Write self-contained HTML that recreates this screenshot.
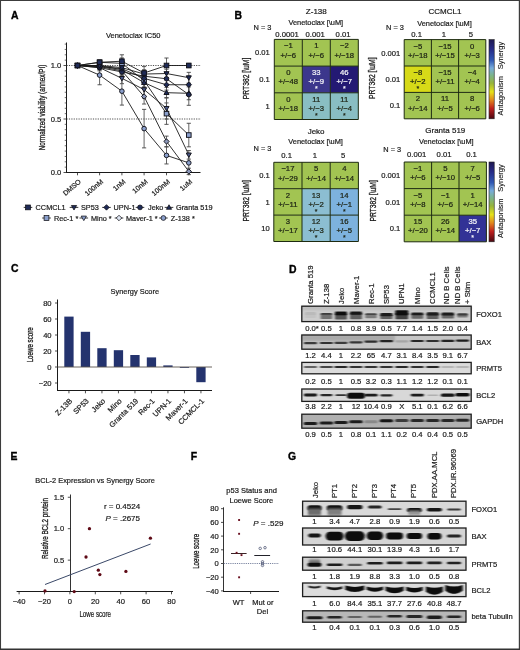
<!DOCTYPE html><html><head><meta charset="utf-8"><style>html,body{margin:0;padding:0;background:#fff;width:520px;height:650px;overflow:hidden}svg{display:block;font-family:"Liberation Sans", sans-serif}.w{will-change:transform;width:520px;height:650px}</style></head><body><div class="w">
<svg width="520" height="650" viewBox="0 0 520 650">
<defs><linearGradient id="cbar" x1="0" y1="0" x2="0" y2="1"><stop offset="0" stop-color="#1e1850"/><stop offset="0.12" stop-color="#262a86"/><stop offset="0.26" stop-color="#3058b4"/><stop offset="0.36" stop-color="#78acdc"/><stop offset="0.45" stop-color="#7cb48c"/><stop offset="0.55" stop-color="#96b43c"/><stop offset="0.66" stop-color="#e6e21a"/><stop offset="0.76" stop-color="#e28a1e"/><stop offset="0.87" stop-color="#c0201e"/><stop offset="1" stop-color="#4a0812"/></linearGradient><filter id="bl" x="-30%" y="-100%" width="160%" height="300%"><feGaussianBlur stdDeviation="0.9 0.55"/></filter><filter id="bl2" x="-30%" y="-100%" width="160%" height="300%"><feGaussianBlur stdDeviation="1.2"/></filter></defs>
<rect x="0.00" y="0.00" width="520.00" height="650.00" fill="#fff" />
<text x="11.00" y="19.20" font-size="10.4" text-anchor="start" fill="#000" font-weight="bold" stroke="#000" stroke-width="0.35">A</text>
<text x="133.20" y="38.20" font-size="7.5" text-anchor="middle" fill="#1a1a1a"  stroke="#1a1a1a" stroke-width="0.2">Venetoclax IC50</text>
<line x1="66.5" y1="65.50" x2="201" y2="65.50" stroke="#222" stroke-width="0.8" stroke-dasharray="1.2,1.2"/>
<line x1="66.5" y1="119.00" x2="201" y2="119.00" stroke="#222" stroke-width="0.8" stroke-dasharray="1.2,1.2"/>
<line x1="66.50" y1="42.50" x2="66.50" y2="173.00" stroke="#1a1a1a" stroke-width="1.0" />
<line x1="66.00" y1="172.50" x2="200.50" y2="172.50" stroke="#1a1a1a" stroke-width="1.0" />
<line x1="63.50" y1="172.50" x2="66.50" y2="172.50" stroke="#222" stroke-width="0.8" />
<line x1="64.70" y1="167.15" x2="66.50" y2="167.15" stroke="#333" stroke-width="0.7" />
<line x1="64.70" y1="161.80" x2="66.50" y2="161.80" stroke="#333" stroke-width="0.7" />
<line x1="64.70" y1="156.45" x2="66.50" y2="156.45" stroke="#333" stroke-width="0.7" />
<line x1="64.70" y1="151.10" x2="66.50" y2="151.10" stroke="#333" stroke-width="0.7" />
<line x1="64.70" y1="145.75" x2="66.50" y2="145.75" stroke="#333" stroke-width="0.7" />
<line x1="64.70" y1="140.40" x2="66.50" y2="140.40" stroke="#333" stroke-width="0.7" />
<line x1="64.70" y1="135.05" x2="66.50" y2="135.05" stroke="#333" stroke-width="0.7" />
<line x1="64.70" y1="129.70" x2="66.50" y2="129.70" stroke="#333" stroke-width="0.7" />
<line x1="64.70" y1="124.35" x2="66.50" y2="124.35" stroke="#333" stroke-width="0.7" />
<line x1="63.50" y1="119.00" x2="66.50" y2="119.00" stroke="#222" stroke-width="0.8" />
<line x1="64.70" y1="113.65" x2="66.50" y2="113.65" stroke="#333" stroke-width="0.7" />
<line x1="64.70" y1="108.30" x2="66.50" y2="108.30" stroke="#333" stroke-width="0.7" />
<line x1="64.70" y1="102.95" x2="66.50" y2="102.95" stroke="#333" stroke-width="0.7" />
<line x1="64.70" y1="97.60" x2="66.50" y2="97.60" stroke="#333" stroke-width="0.7" />
<line x1="64.70" y1="92.25" x2="66.50" y2="92.25" stroke="#333" stroke-width="0.7" />
<line x1="64.70" y1="86.90" x2="66.50" y2="86.90" stroke="#333" stroke-width="0.7" />
<line x1="64.70" y1="81.55" x2="66.50" y2="81.55" stroke="#333" stroke-width="0.7" />
<line x1="64.70" y1="76.20" x2="66.50" y2="76.20" stroke="#333" stroke-width="0.7" />
<line x1="64.70" y1="70.85" x2="66.50" y2="70.85" stroke="#333" stroke-width="0.7" />
<line x1="63.50" y1="65.50" x2="66.50" y2="65.50" stroke="#222" stroke-width="0.8" />
<line x1="64.70" y1="60.15" x2="66.50" y2="60.15" stroke="#333" stroke-width="0.7" />
<line x1="64.70" y1="54.80" x2="66.50" y2="54.80" stroke="#333" stroke-width="0.7" />
<line x1="64.70" y1="49.45" x2="66.50" y2="49.45" stroke="#333" stroke-width="0.7" />
<line x1="64.70" y1="44.10" x2="66.50" y2="44.10" stroke="#333" stroke-width="0.7" />
<text x="61.30" y="68.24" font-size="7.6" text-anchor="end" fill="#1a1a1a"  stroke="#1a1a1a" stroke-width="0.2">1.0</text>
<text x="61.30" y="121.74" font-size="7.6" text-anchor="end" fill="#1a1a1a"  stroke="#1a1a1a" stroke-width="0.2">0.5</text>
<text x="61.30" y="175.24" font-size="7.6" text-anchor="end" fill="#1a1a1a"  stroke="#1a1a1a" stroke-width="0.2">0.0</text>
<line x1="77.50" y1="172.60" x2="77.50" y2="175.30" stroke="#222" stroke-width="0.8" />
<line x1="99.60" y1="172.60" x2="99.60" y2="175.30" stroke="#222" stroke-width="0.8" />
<line x1="121.90" y1="172.60" x2="121.90" y2="175.30" stroke="#222" stroke-width="0.8" />
<line x1="144.10" y1="172.60" x2="144.10" y2="175.30" stroke="#222" stroke-width="0.8" />
<line x1="166.50" y1="172.60" x2="166.50" y2="175.30" stroke="#222" stroke-width="0.8" />
<line x1="188.80" y1="172.60" x2="188.80" y2="175.30" stroke="#222" stroke-width="0.8" />
<g transform="translate(42.00,107.50) rotate(-90) scale(0.74,1)"><text x="0" y="3.10" font-size="8.6" text-anchor="middle" fill="#1a1a1a" stroke="#1a1a1a" stroke-width="0.3">Normalized viability (annex/PI)</text></g>
<g transform="translate(79.90,180.60) rotate(-40)"><text x="0" y="2.5" font-size="7.0" text-anchor="end" fill="#1a1a1a" stroke="#1a1a1a" stroke-width="0.2">DMSO</text></g>
<g transform="translate(102.00,180.60) rotate(-40)"><text x="0" y="2.5" font-size="7.0" text-anchor="end" fill="#1a1a1a" stroke="#1a1a1a" stroke-width="0.2">100nM</text></g>
<g transform="translate(124.30,180.60) rotate(-40)"><text x="0" y="2.5" font-size="7.0" text-anchor="end" fill="#1a1a1a" stroke="#1a1a1a" stroke-width="0.2">1nM</text></g>
<g transform="translate(146.50,180.60) rotate(-40)"><text x="0" y="2.5" font-size="7.0" text-anchor="end" fill="#1a1a1a" stroke="#1a1a1a" stroke-width="0.2">10nM</text></g>
<g transform="translate(168.90,180.60) rotate(-40)"><text x="0" y="2.5" font-size="7.0" text-anchor="end" fill="#1a1a1a" stroke="#1a1a1a" stroke-width="0.2">100nM</text></g>
<g transform="translate(191.20,180.60) rotate(-40)"><text x="0" y="2.5" font-size="7.0" text-anchor="end" fill="#1a1a1a" stroke="#1a1a1a" stroke-width="0.2">1uM</text></g>
<line x1="99.60" y1="60.15" x2="99.60" y2="64.43" stroke="#555" stroke-width="0.9" />
<line x1="97.50" y1="60.15" x2="101.70" y2="60.15" stroke="#444" stroke-width="0.9" />
<line x1="97.50" y1="64.43" x2="101.70" y2="64.43" stroke="#444" stroke-width="0.9" />
<line x1="121.90" y1="54.80" x2="121.90" y2="67.64" stroke="#555" stroke-width="0.9" />
<line x1="119.80" y1="54.80" x2="124.00" y2="54.80" stroke="#444" stroke-width="0.9" />
<line x1="119.80" y1="67.64" x2="124.00" y2="67.64" stroke="#444" stroke-width="0.9" />
<line x1="144.10" y1="66.57" x2="144.10" y2="79.41" stroke="#555" stroke-width="0.9" />
<line x1="142.00" y1="66.57" x2="146.20" y2="66.57" stroke="#444" stroke-width="0.9" />
<line x1="142.00" y1="79.41" x2="146.20" y2="79.41" stroke="#444" stroke-width="0.9" />
<line x1="166.50" y1="58.01" x2="166.50" y2="72.99" stroke="#555" stroke-width="0.9" />
<line x1="164.40" y1="58.01" x2="168.60" y2="58.01" stroke="#444" stroke-width="0.9" />
<line x1="164.40" y1="72.99" x2="168.60" y2="72.99" stroke="#444" stroke-width="0.9" />
<line x1="188.80" y1="63.36" x2="188.80" y2="67.64" stroke="#555" stroke-width="0.9" />
<line x1="186.70" y1="63.36" x2="190.90" y2="63.36" stroke="#444" stroke-width="0.9" />
<line x1="186.70" y1="67.64" x2="190.90" y2="67.64" stroke="#444" stroke-width="0.9" />
<line x1="99.60" y1="63.36" x2="99.60" y2="67.64" stroke="#555" stroke-width="0.9" />
<line x1="97.50" y1="63.36" x2="101.70" y2="63.36" stroke="#444" stroke-width="0.9" />
<line x1="97.50" y1="67.64" x2="101.70" y2="67.64" stroke="#444" stroke-width="0.9" />
<line x1="121.90" y1="64.43" x2="121.90" y2="70.85" stroke="#555" stroke-width="0.9" />
<line x1="119.80" y1="64.43" x2="124.00" y2="64.43" stroke="#444" stroke-width="0.9" />
<line x1="119.80" y1="70.85" x2="124.00" y2="70.85" stroke="#444" stroke-width="0.9" />
<line x1="144.10" y1="69.78" x2="144.10" y2="78.34" stroke="#555" stroke-width="0.9" />
<line x1="142.00" y1="69.78" x2="146.20" y2="69.78" stroke="#444" stroke-width="0.9" />
<line x1="142.00" y1="78.34" x2="146.20" y2="78.34" stroke="#444" stroke-width="0.9" />
<line x1="166.50" y1="69.24" x2="166.50" y2="77.80" stroke="#555" stroke-width="0.9" />
<line x1="164.40" y1="69.24" x2="168.60" y2="69.24" stroke="#444" stroke-width="0.9" />
<line x1="164.40" y1="77.80" x2="168.60" y2="77.80" stroke="#444" stroke-width="0.9" />
<line x1="188.80" y1="72.35" x2="188.80" y2="83.05" stroke="#555" stroke-width="0.9" />
<line x1="186.70" y1="72.35" x2="190.90" y2="72.35" stroke="#444" stroke-width="0.9" />
<line x1="186.70" y1="83.05" x2="190.90" y2="83.05" stroke="#444" stroke-width="0.9" />
<line x1="99.60" y1="64.43" x2="99.60" y2="68.71" stroke="#555" stroke-width="0.9" />
<line x1="97.50" y1="64.43" x2="101.70" y2="64.43" stroke="#444" stroke-width="0.9" />
<line x1="97.50" y1="68.71" x2="101.70" y2="68.71" stroke="#444" stroke-width="0.9" />
<line x1="121.90" y1="65.50" x2="121.90" y2="71.92" stroke="#555" stroke-width="0.9" />
<line x1="119.80" y1="65.50" x2="124.00" y2="65.50" stroke="#444" stroke-width="0.9" />
<line x1="119.80" y1="71.92" x2="124.00" y2="71.92" stroke="#444" stroke-width="0.9" />
<line x1="144.10" y1="72.99" x2="144.10" y2="83.69" stroke="#555" stroke-width="0.9" />
<line x1="142.00" y1="72.99" x2="146.20" y2="72.99" stroke="#444" stroke-width="0.9" />
<line x1="142.00" y1="83.69" x2="146.20" y2="83.69" stroke="#444" stroke-width="0.9" />
<line x1="166.50" y1="79.41" x2="166.50" y2="90.11" stroke="#555" stroke-width="0.9" />
<line x1="164.40" y1="79.41" x2="168.60" y2="79.41" stroke="#444" stroke-width="0.9" />
<line x1="164.40" y1="90.11" x2="168.60" y2="90.11" stroke="#444" stroke-width="0.9" />
<line x1="188.80" y1="76.20" x2="188.80" y2="93.32" stroke="#555" stroke-width="0.9" />
<line x1="186.70" y1="76.20" x2="190.90" y2="76.20" stroke="#444" stroke-width="0.9" />
<line x1="186.70" y1="93.32" x2="190.90" y2="93.32" stroke="#444" stroke-width="0.9" />
<line x1="99.60" y1="65.50" x2="99.60" y2="69.78" stroke="#555" stroke-width="0.9" />
<line x1="97.50" y1="65.50" x2="101.70" y2="65.50" stroke="#444" stroke-width="0.9" />
<line x1="97.50" y1="69.78" x2="101.70" y2="69.78" stroke="#444" stroke-width="0.9" />
<line x1="121.90" y1="68.71" x2="121.90" y2="75.13" stroke="#555" stroke-width="0.9" />
<line x1="119.80" y1="68.71" x2="124.00" y2="68.71" stroke="#444" stroke-width="0.9" />
<line x1="119.80" y1="75.13" x2="124.00" y2="75.13" stroke="#444" stroke-width="0.9" />
<line x1="144.10" y1="70.85" x2="144.10" y2="81.55" stroke="#555" stroke-width="0.9" />
<line x1="142.00" y1="70.85" x2="146.20" y2="70.85" stroke="#444" stroke-width="0.9" />
<line x1="142.00" y1="81.55" x2="146.20" y2="81.55" stroke="#444" stroke-width="0.9" />
<line x1="166.50" y1="72.35" x2="166.50" y2="85.19" stroke="#555" stroke-width="0.9" />
<line x1="164.40" y1="72.35" x2="168.60" y2="72.35" stroke="#444" stroke-width="0.9" />
<line x1="164.40" y1="85.19" x2="168.60" y2="85.19" stroke="#444" stroke-width="0.9" />
<line x1="188.80" y1="83.90" x2="188.80" y2="105.30" stroke="#555" stroke-width="0.9" />
<line x1="186.70" y1="83.90" x2="190.90" y2="83.90" stroke="#444" stroke-width="0.9" />
<line x1="186.70" y1="105.30" x2="190.90" y2="105.30" stroke="#444" stroke-width="0.9" />
<line x1="99.60" y1="63.36" x2="99.60" y2="67.64" stroke="#555" stroke-width="0.9" />
<line x1="97.50" y1="63.36" x2="101.70" y2="63.36" stroke="#444" stroke-width="0.9" />
<line x1="97.50" y1="67.64" x2="101.70" y2="67.64" stroke="#444" stroke-width="0.9" />
<line x1="121.90" y1="65.50" x2="121.90" y2="74.06" stroke="#555" stroke-width="0.9" />
<line x1="119.80" y1="65.50" x2="124.00" y2="65.50" stroke="#444" stroke-width="0.9" />
<line x1="119.80" y1="74.06" x2="124.00" y2="74.06" stroke="#444" stroke-width="0.9" />
<line x1="144.10" y1="77.27" x2="144.10" y2="87.97" stroke="#555" stroke-width="0.9" />
<line x1="142.00" y1="77.27" x2="146.20" y2="77.27" stroke="#444" stroke-width="0.9" />
<line x1="142.00" y1="87.97" x2="146.20" y2="87.97" stroke="#444" stroke-width="0.9" />
<line x1="166.50" y1="87.33" x2="166.50" y2="98.03" stroke="#555" stroke-width="0.9" />
<line x1="164.40" y1="87.33" x2="168.60" y2="87.33" stroke="#444" stroke-width="0.9" />
<line x1="164.40" y1="98.03" x2="168.60" y2="98.03" stroke="#444" stroke-width="0.9" />
<line x1="188.80" y1="86.90" x2="188.80" y2="99.74" stroke="#555" stroke-width="0.9" />
<line x1="186.70" y1="86.90" x2="190.90" y2="86.90" stroke="#444" stroke-width="0.9" />
<line x1="186.70" y1="99.74" x2="190.90" y2="99.74" stroke="#444" stroke-width="0.9" />
<line x1="99.60" y1="60.15" x2="99.60" y2="64.43" stroke="#555" stroke-width="0.9" />
<line x1="97.50" y1="60.15" x2="101.70" y2="60.15" stroke="#444" stroke-width="0.9" />
<line x1="97.50" y1="64.43" x2="101.70" y2="64.43" stroke="#444" stroke-width="0.9" />
<line x1="121.90" y1="58.01" x2="121.90" y2="68.71" stroke="#555" stroke-width="0.9" />
<line x1="119.80" y1="58.01" x2="124.00" y2="58.01" stroke="#444" stroke-width="0.9" />
<line x1="119.80" y1="68.71" x2="124.00" y2="68.71" stroke="#444" stroke-width="0.9" />
<line x1="144.10" y1="74.06" x2="144.10" y2="86.90" stroke="#555" stroke-width="0.9" />
<line x1="142.00" y1="74.06" x2="146.20" y2="74.06" stroke="#444" stroke-width="0.9" />
<line x1="142.00" y1="86.90" x2="146.20" y2="86.90" stroke="#444" stroke-width="0.9" />
<line x1="166.50" y1="102.95" x2="166.50" y2="124.35" stroke="#555" stroke-width="0.9" />
<line x1="164.40" y1="102.95" x2="168.60" y2="102.95" stroke="#444" stroke-width="0.9" />
<line x1="164.40" y1="124.35" x2="168.60" y2="124.35" stroke="#444" stroke-width="0.9" />
<line x1="188.80" y1="123.28" x2="188.80" y2="146.82" stroke="#555" stroke-width="0.9" />
<line x1="186.70" y1="123.28" x2="190.90" y2="123.28" stroke="#444" stroke-width="0.9" />
<line x1="186.70" y1="146.82" x2="190.90" y2="146.82" stroke="#444" stroke-width="0.9" />
<line x1="99.60" y1="64.43" x2="99.60" y2="70.85" stroke="#555" stroke-width="0.9" />
<line x1="97.50" y1="64.43" x2="101.70" y2="64.43" stroke="#444" stroke-width="0.9" />
<line x1="97.50" y1="70.85" x2="101.70" y2="70.85" stroke="#444" stroke-width="0.9" />
<line x1="121.90" y1="72.99" x2="121.90" y2="83.69" stroke="#555" stroke-width="0.9" />
<line x1="119.80" y1="72.99" x2="124.00" y2="72.99" stroke="#444" stroke-width="0.9" />
<line x1="119.80" y1="83.69" x2="124.00" y2="83.69" stroke="#444" stroke-width="0.9" />
<line x1="144.10" y1="81.02" x2="144.10" y2="98.13" stroke="#555" stroke-width="0.9" />
<line x1="142.00" y1="81.02" x2="146.20" y2="81.02" stroke="#444" stroke-width="0.9" />
<line x1="142.00" y1="98.13" x2="146.20" y2="98.13" stroke="#444" stroke-width="0.9" />
<line x1="166.50" y1="97.60" x2="166.50" y2="119.00" stroke="#555" stroke-width="0.9" />
<line x1="164.40" y1="97.60" x2="168.60" y2="97.60" stroke="#444" stroke-width="0.9" />
<line x1="164.40" y1="119.00" x2="168.60" y2="119.00" stroke="#444" stroke-width="0.9" />
<line x1="188.80" y1="150.56" x2="188.80" y2="159.12" stroke="#555" stroke-width="0.9" />
<line x1="186.70" y1="150.56" x2="190.90" y2="150.56" stroke="#444" stroke-width="0.9" />
<line x1="186.70" y1="159.12" x2="190.90" y2="159.12" stroke="#444" stroke-width="0.9" />
<line x1="99.60" y1="64.43" x2="99.60" y2="68.71" stroke="#555" stroke-width="0.9" />
<line x1="97.50" y1="64.43" x2="101.70" y2="64.43" stroke="#444" stroke-width="0.9" />
<line x1="97.50" y1="68.71" x2="101.70" y2="68.71" stroke="#444" stroke-width="0.9" />
<line x1="121.90" y1="65.50" x2="121.90" y2="76.20" stroke="#555" stroke-width="0.9" />
<line x1="119.80" y1="65.50" x2="124.00" y2="65.50" stroke="#444" stroke-width="0.9" />
<line x1="119.80" y1="76.20" x2="124.00" y2="76.20" stroke="#444" stroke-width="0.9" />
<line x1="144.10" y1="89.04" x2="144.10" y2="104.02" stroke="#555" stroke-width="0.9" />
<line x1="142.00" y1="89.04" x2="146.20" y2="89.04" stroke="#444" stroke-width="0.9" />
<line x1="142.00" y1="104.02" x2="146.20" y2="104.02" stroke="#444" stroke-width="0.9" />
<line x1="166.50" y1="136.12" x2="166.50" y2="146.82" stroke="#555" stroke-width="0.9" />
<line x1="164.40" y1="136.12" x2="168.60" y2="136.12" stroke="#444" stroke-width="0.9" />
<line x1="164.40" y1="146.82" x2="168.60" y2="146.82" stroke="#444" stroke-width="0.9" />
<line x1="188.80" y1="168.22" x2="188.80" y2="174.64" stroke="#555" stroke-width="0.9" />
<line x1="186.70" y1="168.22" x2="190.90" y2="168.22" stroke="#444" stroke-width="0.9" />
<line x1="186.70" y1="174.64" x2="190.90" y2="174.64" stroke="#444" stroke-width="0.9" />
<line x1="99.60" y1="65.50" x2="99.60" y2="84.76" stroke="#555" stroke-width="0.9" />
<line x1="97.50" y1="65.50" x2="101.70" y2="65.50" stroke="#444" stroke-width="0.9" />
<line x1="97.50" y1="84.76" x2="101.70" y2="84.76" stroke="#444" stroke-width="0.9" />
<line x1="121.90" y1="77.27" x2="121.90" y2="105.09" stroke="#555" stroke-width="0.9" />
<line x1="119.80" y1="77.27" x2="124.00" y2="77.27" stroke="#444" stroke-width="0.9" />
<line x1="119.80" y1="105.09" x2="124.00" y2="105.09" stroke="#444" stroke-width="0.9" />
<line x1="144.10" y1="109.37" x2="144.10" y2="147.89" stroke="#555" stroke-width="0.9" />
<line x1="142.00" y1="109.37" x2="146.20" y2="109.37" stroke="#444" stroke-width="0.9" />
<line x1="142.00" y1="147.89" x2="146.20" y2="147.89" stroke="#444" stroke-width="0.9" />
<line x1="166.50" y1="146.82" x2="166.50" y2="163.94" stroke="#555" stroke-width="0.9" />
<line x1="164.40" y1="146.82" x2="168.60" y2="146.82" stroke="#444" stroke-width="0.9" />
<line x1="164.40" y1="163.94" x2="168.60" y2="163.94" stroke="#444" stroke-width="0.9" />
<line x1="188.80" y1="154.31" x2="188.80" y2="171.43" stroke="#555" stroke-width="0.9" />
<line x1="186.70" y1="154.31" x2="190.90" y2="154.31" stroke="#444" stroke-width="0.9" />
<line x1="186.70" y1="171.43" x2="190.90" y2="171.43" stroke="#444" stroke-width="0.9" />
<polyline points="77.50,65.50 99.60,62.29 121.90,61.22 144.10,72.99 166.50,65.50 188.80,65.50" fill="none" stroke="#1a1a1a" stroke-width="0.9"/>
<polyline points="77.50,65.50 99.60,65.50 121.90,67.64 144.10,74.06 166.50,73.52 188.80,77.70" fill="none" stroke="#1a1a1a" stroke-width="0.9"/>
<polyline points="77.50,65.50 99.60,66.57 121.90,68.71 144.10,78.34 166.50,84.76 188.80,84.76" fill="none" stroke="#1a1a1a" stroke-width="0.9"/>
<polyline points="77.50,65.50 99.60,67.64 121.90,71.92 144.10,76.20 166.50,78.77 188.80,94.60" fill="none" stroke="#1a1a1a" stroke-width="0.9"/>
<polyline points="77.50,65.50 99.60,65.50 121.90,69.78 144.10,82.62 166.50,92.68 188.80,93.32" fill="none" stroke="#1a1a1a" stroke-width="0.9"/>
<polyline points="77.50,65.50 99.60,62.29 121.90,63.36 144.10,80.48 166.50,113.65 188.80,135.05" fill="none" stroke="#1a1a1a" stroke-width="0.9"/>
<polyline points="77.50,65.50 99.60,67.64 121.90,78.34 144.10,89.58 166.50,108.30 188.80,154.84" fill="none" stroke="#1a1a1a" stroke-width="0.9"/>
<polyline points="77.50,65.50 99.60,66.57 121.90,70.85 144.10,96.53 166.50,141.47 188.80,171.43" fill="none" stroke="#1a1a1a" stroke-width="0.9"/>
<polyline points="77.50,65.50 99.60,75.13 121.90,91.18 144.10,128.63 166.50,155.38 188.80,162.87" fill="none" stroke="#1a1a1a" stroke-width="0.9"/>
<circle cx="77.50" cy="65.50" r="2.30" fill="#8a9fcc" stroke="#111118" stroke-width="0.95"/>
<circle cx="99.60" cy="75.13" r="2.30" fill="#8a9fcc" stroke="#111118" stroke-width="0.95"/>
<circle cx="121.90" cy="91.18" r="2.30" fill="#8a9fcc" stroke="#111118" stroke-width="0.95"/>
<circle cx="144.10" cy="128.63" r="2.30" fill="#8a9fcc" stroke="#111118" stroke-width="0.95"/>
<circle cx="166.50" cy="155.38" r="2.30" fill="#8a9fcc" stroke="#111118" stroke-width="0.95"/>
<circle cx="188.80" cy="162.87" r="2.30" fill="#8a9fcc" stroke="#111118" stroke-width="0.95"/>
<path d="M77.50,62.86L80.14,65.50L77.50,68.14L74.86,65.50Z" fill="#8a96b8" stroke="#111118" stroke-width="0.95"/>
<path d="M99.60,63.93L102.24,66.57L99.60,69.22L96.95,66.57Z" fill="#8a96b8" stroke="#111118" stroke-width="0.95"/>
<path d="M121.90,68.21L124.55,70.85L121.90,73.50L119.26,70.85Z" fill="#8a96b8" stroke="#111118" stroke-width="0.95"/>
<path d="M144.10,93.89L146.75,96.53L144.10,99.17L141.45,96.53Z" fill="#8a96b8" stroke="#111118" stroke-width="0.95"/>
<path d="M166.50,138.82L169.15,141.47L166.50,144.12L163.85,141.47Z" fill="#8a96b8" stroke="#111118" stroke-width="0.95"/>
<path d="M188.80,168.78L191.45,171.43L188.80,174.08L186.16,171.43Z" fill="#8a96b8" stroke="#111118" stroke-width="0.95"/>
<path d="M77.50,68.03L80.03,63.66L74.97,63.66Z" fill="#4a5888" stroke="#111118" stroke-width="0.95"/>
<path d="M99.60,70.17L102.13,65.80L97.07,65.80Z" fill="#4a5888" stroke="#111118" stroke-width="0.95"/>
<path d="M121.90,80.87L124.43,76.50L119.37,76.50Z" fill="#4a5888" stroke="#111118" stroke-width="0.95"/>
<path d="M144.10,92.11L146.63,87.73L141.57,87.73Z" fill="#4a5888" stroke="#111118" stroke-width="0.95"/>
<path d="M166.50,110.83L169.03,106.46L163.97,106.46Z" fill="#4a5888" stroke="#111118" stroke-width="0.95"/>
<path d="M188.80,157.38L191.33,153.00L186.27,153.00Z" fill="#4a5888" stroke="#111118" stroke-width="0.95"/>
<rect x="75.20" y="63.20" width="4.60" height="4.60" fill="#8a9fcc" stroke="#111118" stroke-width="0.95"/>
<rect x="97.30" y="59.99" width="4.60" height="4.60" fill="#8a9fcc" stroke="#111118" stroke-width="0.95"/>
<rect x="119.60" y="61.06" width="4.60" height="4.60" fill="#8a9fcc" stroke="#111118" stroke-width="0.95"/>
<rect x="141.80" y="78.18" width="4.60" height="4.60" fill="#8a9fcc" stroke="#111118" stroke-width="0.95"/>
<rect x="164.20" y="111.35" width="4.60" height="4.60" fill="#8a9fcc" stroke="#111118" stroke-width="0.95"/>
<rect x="186.50" y="132.75" width="4.60" height="4.60" fill="#8a9fcc" stroke="#111118" stroke-width="0.95"/>
<path d="M77.50,62.97L80.03,67.34L74.97,67.34Z" fill="#1f2b57" stroke="#111118" stroke-width="0.95"/>
<path d="M99.60,62.97L102.13,67.34L97.07,67.34Z" fill="#1f2b57" stroke="#111118" stroke-width="0.95"/>
<path d="M121.90,67.25L124.43,71.62L119.37,71.62Z" fill="#1f2b57" stroke="#111118" stroke-width="0.95"/>
<path d="M144.10,80.09L146.63,84.46L141.57,84.46Z" fill="#1f2b57" stroke="#111118" stroke-width="0.95"/>
<path d="M166.50,90.15L169.03,94.52L163.97,94.52Z" fill="#1f2b57" stroke="#111118" stroke-width="0.95"/>
<path d="M188.80,90.79L191.33,95.16L186.27,95.16Z" fill="#1f2b57" stroke="#111118" stroke-width="0.95"/>
<circle cx="77.50" cy="65.50" r="2.30" fill="#1f2b57" stroke="#111118" stroke-width="0.95"/>
<circle cx="99.60" cy="67.64" r="2.30" fill="#1f2b57" stroke="#111118" stroke-width="0.95"/>
<circle cx="121.90" cy="71.92" r="2.30" fill="#1f2b57" stroke="#111118" stroke-width="0.95"/>
<circle cx="144.10" cy="76.20" r="2.30" fill="#1f2b57" stroke="#111118" stroke-width="0.95"/>
<circle cx="166.50" cy="78.77" r="2.30" fill="#1f2b57" stroke="#111118" stroke-width="0.95"/>
<circle cx="188.80" cy="94.60" r="2.30" fill="#1f2b57" stroke="#111118" stroke-width="0.95"/>
<path d="M77.50,62.86L80.14,65.50L77.50,68.14L74.86,65.50Z" fill="#1f2b57" stroke="#111118" stroke-width="0.95"/>
<path d="M99.60,63.93L102.24,66.57L99.60,69.22L96.95,66.57Z" fill="#1f2b57" stroke="#111118" stroke-width="0.95"/>
<path d="M121.90,66.07L124.55,68.71L121.90,71.36L119.26,68.71Z" fill="#1f2b57" stroke="#111118" stroke-width="0.95"/>
<path d="M144.10,75.70L146.75,78.34L144.10,80.98L141.45,78.34Z" fill="#1f2b57" stroke="#111118" stroke-width="0.95"/>
<path d="M166.50,82.12L169.15,84.76L166.50,87.41L163.85,84.76Z" fill="#1f2b57" stroke="#111118" stroke-width="0.95"/>
<path d="M188.80,82.12L191.45,84.76L188.80,87.41L186.16,84.76Z" fill="#1f2b57" stroke="#111118" stroke-width="0.95"/>
<path d="M77.50,68.03L80.03,63.66L74.97,63.66Z" fill="#1f2b57" stroke="#111118" stroke-width="0.95"/>
<path d="M99.60,68.03L102.13,63.66L97.07,63.66Z" fill="#1f2b57" stroke="#111118" stroke-width="0.95"/>
<path d="M121.90,70.17L124.43,65.80L119.37,65.80Z" fill="#1f2b57" stroke="#111118" stroke-width="0.95"/>
<path d="M144.10,76.59L146.63,72.22L141.57,72.22Z" fill="#1f2b57" stroke="#111118" stroke-width="0.95"/>
<path d="M166.50,76.05L169.03,71.68L163.97,71.68Z" fill="#1f2b57" stroke="#111118" stroke-width="0.95"/>
<path d="M188.80,80.23L191.33,75.86L186.27,75.86Z" fill="#1f2b57" stroke="#111118" stroke-width="0.95"/>
<rect x="75.20" y="63.20" width="4.60" height="4.60" fill="#1f2b57" stroke="#111118" stroke-width="0.95"/>
<rect x="97.30" y="59.99" width="4.60" height="4.60" fill="#1f2b57" stroke="#111118" stroke-width="0.95"/>
<rect x="119.60" y="58.92" width="4.60" height="4.60" fill="#1f2b57" stroke="#111118" stroke-width="0.95"/>
<rect x="141.80" y="70.69" width="4.60" height="4.60" fill="#1f2b57" stroke="#111118" stroke-width="0.95"/>
<rect x="164.20" y="63.20" width="4.60" height="4.60" fill="#1f2b57" stroke="#111118" stroke-width="0.95"/>
<rect x="186.50" y="63.20" width="4.60" height="4.60" fill="#1f2b57" stroke="#111118" stroke-width="0.95"/>
<line x1="23.70" y1="207.40" x2="32.30" y2="207.40" stroke="#222" stroke-width="0.9" />
<rect x="25.60" y="205.00" width="4.80" height="4.80" fill="#1f2b57" stroke="#111118" stroke-width="0.75"/>
<text x="35.60" y="210.03" font-size="7.3" text-anchor="start" fill="#1a1a1a"  stroke="#1a1a1a" stroke-width="0.2">CCMCL1</text>
<line x1="69.70" y1="207.40" x2="78.30" y2="207.40" stroke="#222" stroke-width="0.9" />
<path d="M74.00,210.04L76.64,205.48L71.36,205.48Z" fill="#1f2b57" stroke="#111118" stroke-width="0.75"/>
<text x="81.00" y="210.03" font-size="7.3" text-anchor="start" fill="#1a1a1a"  stroke="#1a1a1a" stroke-width="0.2">SP53</text>
<line x1="102.20" y1="207.40" x2="110.80" y2="207.40" stroke="#222" stroke-width="0.9" />
<path d="M106.50,204.64L109.26,207.40L106.50,210.16L103.74,207.40Z" fill="#1f2b57" stroke="#111118" stroke-width="0.75"/>
<text x="113.60" y="210.03" font-size="7.3" text-anchor="start" fill="#1a1a1a"  stroke="#1a1a1a" stroke-width="0.2">UPN-1</text>
<line x1="135.70" y1="207.40" x2="144.30" y2="207.40" stroke="#222" stroke-width="0.9" />
<circle cx="140.00" cy="207.40" r="2.40" fill="#1f2b57" stroke="#111118" stroke-width="0.75"/>
<text x="148.00" y="210.03" font-size="7.3" text-anchor="start" fill="#1a1a1a"  stroke="#1a1a1a" stroke-width="0.2">Jeko</text>
<line x1="164.70" y1="207.40" x2="173.30" y2="207.40" stroke="#222" stroke-width="0.9" />
<path d="M169.00,204.76L171.64,209.32L166.36,209.32Z" fill="#1f2b57" stroke="#111118" stroke-width="0.75"/>
<text x="176.00" y="210.03" font-size="7.3" text-anchor="start" fill="#1a1a1a"  stroke="#1a1a1a" stroke-width="0.2">Granta 519</text>
<line x1="42.20" y1="218.00" x2="50.80" y2="218.00" stroke="#222" stroke-width="0.9" />
<rect x="44.10" y="215.60" width="4.80" height="4.80" fill="#8a9fcc" stroke="#111118" stroke-width="0.75"/>
<text x="53.90" y="220.63" font-size="7.3" text-anchor="start" fill="#1a1a1a"  stroke="#1a1a1a" stroke-width="0.2">Rec-1 *</text>
<line x1="79.50" y1="218.00" x2="88.10" y2="218.00" stroke="#222" stroke-width="0.9" />
<path d="M83.80,220.64L86.44,216.08L81.16,216.08Z" fill="#8a9fcc" stroke="#111118" stroke-width="0.75"/>
<text x="91.00" y="220.63" font-size="7.3" text-anchor="start" fill="#1a1a1a"  stroke="#1a1a1a" stroke-width="0.2">Mino *</text>
<line x1="114.70" y1="218.00" x2="123.30" y2="218.00" stroke="#222" stroke-width="0.9" />
<path d="M119.00,215.24L121.76,218.00L119.00,220.76L116.24,218.00Z" fill="#dfe6f3" stroke="#111118" stroke-width="0.75"/>
<text x="126.00" y="220.63" font-size="7.3" text-anchor="start" fill="#1a1a1a"  stroke="#1a1a1a" stroke-width="0.2">Maver-1 *</text>
<line x1="159.10" y1="218.00" x2="167.70" y2="218.00" stroke="#222" stroke-width="0.9" />
<circle cx="163.40" cy="218.00" r="2.40" fill="#8a9fcc" stroke="#111118" stroke-width="0.75"/>
<text x="170.80" y="220.63" font-size="7.3" text-anchor="start" fill="#1a1a1a"  stroke="#1a1a1a" stroke-width="0.2">Z-138 *</text>
<text x="234.40" y="18.90" font-size="10.4" text-anchor="start" fill="#000" font-weight="bold" stroke="#000" stroke-width="0.35">B</text>
<text x="316.30" y="14.48" font-size="8.0" text-anchor="middle" fill="#1a1a1a"  stroke="#1a1a1a" stroke-width="0.2">Z-138</text>
<text x="315.80" y="25.26" font-size="7.4" text-anchor="middle" fill="#1a1a1a"  stroke="#1a1a1a" stroke-width="0.2">Venetoclax [\uM]</text>
<text x="253.50" y="29.66" font-size="7.4" text-anchor="start" fill="#1a1a1a"  stroke="#1a1a1a" stroke-width="0.2">N = 3</text>
<text x="287.10" y="37.07" font-size="7.7" text-anchor="middle" fill="#1a1a1a"  stroke="#1a1a1a" stroke-width="0.2">0.0001</text>
<text x="315.10" y="37.07" font-size="7.7" text-anchor="middle" fill="#1a1a1a"  stroke="#1a1a1a" stroke-width="0.2">0.001</text>
<text x="343.10" y="37.07" font-size="7.7" text-anchor="middle" fill="#1a1a1a"  stroke="#1a1a1a" stroke-width="0.2">0.01</text>
<text x="269.80" y="55.49" font-size="7.6" text-anchor="end" fill="#1a1a1a"  stroke="#1a1a1a" stroke-width="0.2">0.01</text>
<text x="269.80" y="82.19" font-size="7.6" text-anchor="end" fill="#1a1a1a"  stroke="#1a1a1a" stroke-width="0.2">0.1</text>
<text x="269.80" y="108.89" font-size="7.6" text-anchor="end" fill="#1a1a1a"  stroke="#1a1a1a" stroke-width="0.2">1</text>
<g transform="translate(246.00,78.45) rotate(-90) scale(0.75,1)"><text x="0" y="3.24" font-size="9.0" text-anchor="middle" fill="#1a1a1a" stroke="#1a1a1a" stroke-width="0.3">PRT382 [\uM]</text></g>
<rect x="274.30" y="39.40" width="28.00" height="26.70" fill="#a2c452" />
<rect x="302.30" y="39.40" width="28.00" height="26.70" fill="#a2c452" />
<rect x="330.30" y="39.40" width="28.00" height="26.70" fill="#a2c452" />
<rect x="274.30" y="66.10" width="28.00" height="26.70" fill="#a2c452" />
<rect x="302.30" y="66.10" width="28.00" height="26.70" fill="#3c378c" />
<rect x="330.30" y="66.10" width="28.00" height="26.70" fill="#231973" />
<rect x="274.30" y="92.80" width="28.00" height="26.70" fill="#a2c452" />
<rect x="302.30" y="92.80" width="28.00" height="26.70" fill="#89bec3" />
<rect x="330.30" y="92.80" width="28.00" height="26.70" fill="#89bec3" />
<line x1="274.30" y1="39.40" x2="274.30" y2="119.50" stroke="#1d2a10" stroke-width="1.0" />
<line x1="302.30" y1="39.40" x2="302.30" y2="119.50" stroke="#1d2a10" stroke-width="1.0" />
<line x1="330.30" y1="39.40" x2="330.30" y2="119.50" stroke="#1d2a10" stroke-width="1.0" />
<line x1="358.30" y1="39.40" x2="358.30" y2="119.50" stroke="#1d2a10" stroke-width="1.0" />
<line x1="274.30" y1="39.40" x2="358.30" y2="39.40" stroke="#1d2a10" stroke-width="1.0" />
<line x1="274.30" y1="66.10" x2="358.30" y2="66.10" stroke="#1d2a10" stroke-width="1.0" />
<line x1="274.30" y1="92.80" x2="358.30" y2="92.80" stroke="#1d2a10" stroke-width="1.0" />
<line x1="274.30" y1="119.50" x2="358.30" y2="119.50" stroke="#1d2a10" stroke-width="1.0" />
<text x="288.30" y="48.37" font-size="7.7" text-anchor="middle" fill="#1e2414" stroke="#1e2414" stroke-width="0.24">−1</text>
<text x="288.30" y="57.67" font-size="7.7" text-anchor="middle" fill="#1e2414" stroke="#1e2414" stroke-width="0.24">+/−6</text>
<text x="316.30" y="48.37" font-size="7.7" text-anchor="middle" fill="#1e2414" stroke="#1e2414" stroke-width="0.24">1</text>
<text x="316.30" y="57.67" font-size="7.7" text-anchor="middle" fill="#1e2414" stroke="#1e2414" stroke-width="0.24">+/−6</text>
<text x="344.30" y="48.37" font-size="7.7" text-anchor="middle" fill="#1e2414" stroke="#1e2414" stroke-width="0.24">−2</text>
<text x="344.30" y="57.67" font-size="7.7" text-anchor="middle" fill="#1e2414" stroke="#1e2414" stroke-width="0.24">+/−18</text>
<text x="288.30" y="75.07" font-size="7.7" text-anchor="middle" fill="#1e2414" stroke="#1e2414" stroke-width="0.24">0</text>
<text x="288.30" y="84.37" font-size="7.7" text-anchor="middle" fill="#1e2414" stroke="#1e2414" stroke-width="0.24">+/−48</text>
<text x="316.30" y="75.07" font-size="7.7" text-anchor="middle" fill="#f4f4f8" stroke="#f4f4f8" stroke-width="0.24">33</text>
<text x="316.30" y="84.37" font-size="7.7" text-anchor="middle" fill="#f4f4f8" stroke="#f4f4f8" stroke-width="0.24">+/−9</text>
<text x="316.30" y="91.22" font-size="7.0" text-anchor="middle" fill="#f4f4f8"  stroke="#f4f4f8" stroke-width="0.2">*</text>
<text x="344.30" y="75.07" font-size="7.7" text-anchor="middle" fill="#f4f4f8" stroke="#f4f4f8" stroke-width="0.24">46</text>
<text x="344.30" y="84.37" font-size="7.7" text-anchor="middle" fill="#f4f4f8" stroke="#f4f4f8" stroke-width="0.24">+/−7</text>
<text x="344.30" y="91.22" font-size="7.0" text-anchor="middle" fill="#f4f4f8"  stroke="#f4f4f8" stroke-width="0.2">*</text>
<text x="288.30" y="101.77" font-size="7.7" text-anchor="middle" fill="#1e2414" stroke="#1e2414" stroke-width="0.24">0</text>
<text x="288.30" y="111.07" font-size="7.7" text-anchor="middle" fill="#1e2414" stroke="#1e2414" stroke-width="0.24">+/−18</text>
<text x="316.30" y="101.77" font-size="7.7" text-anchor="middle" fill="#1e2414" stroke="#1e2414" stroke-width="0.24">11</text>
<text x="316.30" y="111.07" font-size="7.7" text-anchor="middle" fill="#1e2414" stroke="#1e2414" stroke-width="0.24">+/−3</text>
<text x="316.30" y="117.92" font-size="7.0" text-anchor="middle" fill="#1e2414"  stroke="#1e2414" stroke-width="0.2">*</text>
<text x="344.30" y="101.77" font-size="7.7" text-anchor="middle" fill="#1e2414" stroke="#1e2414" stroke-width="0.24">11</text>
<text x="344.30" y="111.07" font-size="7.7" text-anchor="middle" fill="#1e2414" stroke="#1e2414" stroke-width="0.24">+/−4</text>
<text x="344.30" y="117.92" font-size="7.0" text-anchor="middle" fill="#1e2414"  stroke="#1e2414" stroke-width="0.2">*</text>
<text x="445.00" y="14.48" font-size="8.0" text-anchor="middle" fill="#1a1a1a"  stroke="#1a1a1a" stroke-width="0.2">CCMCL1</text>
<text x="444.50" y="25.56" font-size="7.4" text-anchor="middle" fill="#1a1a1a"  stroke="#1a1a1a" stroke-width="0.2">Venetoclax [\uM]</text>
<text x="386.00" y="29.66" font-size="7.4" text-anchor="start" fill="#1a1a1a"  stroke="#1a1a1a" stroke-width="0.2">N = 3</text>
<text x="416.60" y="37.07" font-size="7.7" text-anchor="middle" fill="#1a1a1a"  stroke="#1a1a1a" stroke-width="0.2">0.1</text>
<text x="443.80" y="37.07" font-size="7.7" text-anchor="middle" fill="#1a1a1a"  stroke="#1a1a1a" stroke-width="0.2">1</text>
<text x="471.00" y="37.07" font-size="7.7" text-anchor="middle" fill="#1a1a1a"  stroke="#1a1a1a" stroke-width="0.2">5</text>
<text x="400.30" y="55.54" font-size="7.6" text-anchor="end" fill="#1a1a1a"  stroke="#1a1a1a" stroke-width="0.2">0.001</text>
<text x="400.30" y="81.94" font-size="7.6" text-anchor="end" fill="#1a1a1a"  stroke="#1a1a1a" stroke-width="0.2">0.01</text>
<text x="400.30" y="108.34" font-size="7.6" text-anchor="end" fill="#1a1a1a"  stroke="#1a1a1a" stroke-width="0.2">0.1</text>
<g transform="translate(372.20,78.20) rotate(-90) scale(0.75,1)"><text x="0" y="3.24" font-size="9.0" text-anchor="middle" fill="#1a1a1a" stroke="#1a1a1a" stroke-width="0.3">PRT382 [\uM]</text></g>
<rect x="404.20" y="39.60" width="27.20" height="26.40" fill="#a2c452" />
<rect x="431.40" y="39.60" width="27.20" height="26.40" fill="#a2c452" />
<rect x="458.60" y="39.60" width="27.20" height="26.40" fill="#a2c452" />
<rect x="404.20" y="66.00" width="27.20" height="26.40" fill="#d7da18" />
<rect x="431.40" y="66.00" width="27.20" height="26.40" fill="#a2c452" />
<rect x="458.60" y="66.00" width="27.20" height="26.40" fill="#a2c452" />
<rect x="404.20" y="92.40" width="27.20" height="26.40" fill="#a2c452" />
<rect x="431.40" y="92.40" width="27.20" height="26.40" fill="#a2c452" />
<rect x="458.60" y="92.40" width="27.20" height="26.40" fill="#a2c452" />
<line x1="404.20" y1="39.60" x2="404.20" y2="118.80" stroke="#1d2a10" stroke-width="1.0" />
<line x1="431.40" y1="39.60" x2="431.40" y2="118.80" stroke="#1d2a10" stroke-width="1.0" />
<line x1="458.60" y1="39.60" x2="458.60" y2="118.80" stroke="#1d2a10" stroke-width="1.0" />
<line x1="485.80" y1="39.60" x2="485.80" y2="118.80" stroke="#1d2a10" stroke-width="1.0" />
<line x1="404.20" y1="39.60" x2="485.80" y2="39.60" stroke="#1d2a10" stroke-width="1.0" />
<line x1="404.20" y1="66.00" x2="485.80" y2="66.00" stroke="#1d2a10" stroke-width="1.0" />
<line x1="404.20" y1="92.40" x2="485.80" y2="92.40" stroke="#1d2a10" stroke-width="1.0" />
<line x1="404.20" y1="118.80" x2="485.80" y2="118.80" stroke="#1d2a10" stroke-width="1.0" />
<text x="417.80" y="48.57" font-size="7.7" text-anchor="middle" fill="#1e2414" stroke="#1e2414" stroke-width="0.24">−5</text>
<text x="417.80" y="57.87" font-size="7.7" text-anchor="middle" fill="#1e2414" stroke="#1e2414" stroke-width="0.24">+/−18</text>
<text x="445.00" y="48.57" font-size="7.7" text-anchor="middle" fill="#1e2414" stroke="#1e2414" stroke-width="0.24">−15</text>
<text x="445.00" y="57.87" font-size="7.7" text-anchor="middle" fill="#1e2414" stroke="#1e2414" stroke-width="0.24">+/−15</text>
<text x="472.20" y="48.57" font-size="7.7" text-anchor="middle" fill="#1e2414" stroke="#1e2414" stroke-width="0.24">0</text>
<text x="472.20" y="57.87" font-size="7.7" text-anchor="middle" fill="#1e2414" stroke="#1e2414" stroke-width="0.24">+/−3</text>
<text x="417.80" y="74.97" font-size="7.7" text-anchor="middle" fill="#1e2414" stroke="#1e2414" stroke-width="0.24">−8</text>
<text x="417.80" y="84.27" font-size="7.7" text-anchor="middle" fill="#1e2414" stroke="#1e2414" stroke-width="0.24">+/−2</text>
<text x="417.80" y="91.12" font-size="7.0" text-anchor="middle" fill="#1e2414"  stroke="#1e2414" stroke-width="0.2">*</text>
<text x="445.00" y="74.97" font-size="7.7" text-anchor="middle" fill="#1e2414" stroke="#1e2414" stroke-width="0.24">−15</text>
<text x="445.00" y="84.27" font-size="7.7" text-anchor="middle" fill="#1e2414" stroke="#1e2414" stroke-width="0.24">+/−11</text>
<text x="472.20" y="74.97" font-size="7.7" text-anchor="middle" fill="#1e2414" stroke="#1e2414" stroke-width="0.24">−4</text>
<text x="472.20" y="84.27" font-size="7.7" text-anchor="middle" fill="#1e2414" stroke="#1e2414" stroke-width="0.24">+/−4</text>
<text x="417.80" y="101.37" font-size="7.7" text-anchor="middle" fill="#1e2414" stroke="#1e2414" stroke-width="0.24">2</text>
<text x="417.80" y="110.67" font-size="7.7" text-anchor="middle" fill="#1e2414" stroke="#1e2414" stroke-width="0.24">+/−14</text>
<text x="445.00" y="101.37" font-size="7.7" text-anchor="middle" fill="#1e2414" stroke="#1e2414" stroke-width="0.24">11</text>
<text x="445.00" y="110.67" font-size="7.7" text-anchor="middle" fill="#1e2414" stroke="#1e2414" stroke-width="0.24">+/−5</text>
<text x="472.20" y="101.37" font-size="7.7" text-anchor="middle" fill="#1e2414" stroke="#1e2414" stroke-width="0.24">8</text>
<text x="472.20" y="110.67" font-size="7.7" text-anchor="middle" fill="#1e2414" stroke="#1e2414" stroke-width="0.24">+/−6</text>
<rect x="489.00" y="39.60" width="5.2" height="79.20" fill="url(#cbar)" stroke="#222" stroke-width="0.6"/>
<g transform="translate(499.80,55.60) rotate(-90) scale(1.0,1)"><text x="0" y="2.70" font-size="7.5" text-anchor="middle" fill="#1a1a1a" stroke="#1a1a1a" stroke-width="0.12">Synergy</text></g>
<g transform="translate(499.80,95.80) rotate(-90) scale(1.0,1)"><text x="0" y="2.70" font-size="7.5" text-anchor="middle" fill="#1a1a1a" stroke="#1a1a1a" stroke-width="0.12">Antagonism</text></g>
<text x="316.10" y="133.58" font-size="8.0" text-anchor="middle" fill="#1a1a1a"  stroke="#1a1a1a" stroke-width="0.2">Jeko</text>
<text x="315.60" y="143.66" font-size="7.4" text-anchor="middle" fill="#1a1a1a"  stroke="#1a1a1a" stroke-width="0.2">Venetoclax [\uM]</text>
<text x="253.50" y="151.16" font-size="7.4" text-anchor="start" fill="#1a1a1a"  stroke="#1a1a1a" stroke-width="0.2">N = 3</text>
<text x="286.70" y="157.77" font-size="7.7" text-anchor="middle" fill="#1a1a1a"  stroke="#1a1a1a" stroke-width="0.2">0.1</text>
<text x="314.90" y="157.77" font-size="7.7" text-anchor="middle" fill="#1a1a1a"  stroke="#1a1a1a" stroke-width="0.2">1</text>
<text x="343.10" y="157.77" font-size="7.7" text-anchor="middle" fill="#1a1a1a"  stroke="#1a1a1a" stroke-width="0.2">5</text>
<text x="269.80" y="178.24" font-size="7.6" text-anchor="end" fill="#1a1a1a"  stroke="#1a1a1a" stroke-width="0.2">0.1</text>
<text x="269.80" y="204.64" font-size="7.6" text-anchor="end" fill="#1a1a1a"  stroke="#1a1a1a" stroke-width="0.2">1</text>
<text x="269.80" y="231.04" font-size="7.6" text-anchor="end" fill="#1a1a1a"  stroke="#1a1a1a" stroke-width="0.2">10</text>
<g transform="translate(246.00,200.90) rotate(-90) scale(0.75,1)"><text x="0" y="3.24" font-size="9.0" text-anchor="middle" fill="#1a1a1a" stroke="#1a1a1a" stroke-width="0.3">PRT382 [\uM]</text></g>
<rect x="273.80" y="162.30" width="28.20" height="26.40" fill="#a2c452" />
<rect x="302.00" y="162.30" width="28.20" height="26.40" fill="#a2c452" />
<rect x="330.20" y="162.30" width="28.20" height="26.40" fill="#a2c452" />
<rect x="273.80" y="188.70" width="28.20" height="26.40" fill="#a2c452" />
<rect x="302.00" y="188.70" width="28.20" height="26.40" fill="#8cbed2" />
<rect x="330.20" y="188.70" width="28.20" height="26.40" fill="#7db2de" />
<rect x="273.80" y="215.10" width="28.20" height="26.40" fill="#a2c452" />
<rect x="302.00" y="215.10" width="28.20" height="26.40" fill="#8cbed2" />
<rect x="330.20" y="215.10" width="28.20" height="26.40" fill="#7db2de" />
<line x1="273.80" y1="162.30" x2="273.80" y2="241.50" stroke="#1d2a10" stroke-width="1.0" />
<line x1="302.00" y1="162.30" x2="302.00" y2="241.50" stroke="#1d2a10" stroke-width="1.0" />
<line x1="330.20" y1="162.30" x2="330.20" y2="241.50" stroke="#1d2a10" stroke-width="1.0" />
<line x1="358.40" y1="162.30" x2="358.40" y2="241.50" stroke="#1d2a10" stroke-width="1.0" />
<line x1="273.80" y1="162.30" x2="358.40" y2="162.30" stroke="#1d2a10" stroke-width="1.0" />
<line x1="273.80" y1="188.70" x2="358.40" y2="188.70" stroke="#1d2a10" stroke-width="1.0" />
<line x1="273.80" y1="215.10" x2="358.40" y2="215.10" stroke="#1d2a10" stroke-width="1.0" />
<line x1="273.80" y1="241.50" x2="358.40" y2="241.50" stroke="#1d2a10" stroke-width="1.0" />
<text x="287.90" y="171.27" font-size="7.7" text-anchor="middle" fill="#1e2414" stroke="#1e2414" stroke-width="0.24">−17</text>
<text x="287.90" y="180.57" font-size="7.7" text-anchor="middle" fill="#1e2414" stroke="#1e2414" stroke-width="0.24">+/−29</text>
<text x="316.10" y="171.27" font-size="7.7" text-anchor="middle" fill="#1e2414" stroke="#1e2414" stroke-width="0.24">5</text>
<text x="316.10" y="180.57" font-size="7.7" text-anchor="middle" fill="#1e2414" stroke="#1e2414" stroke-width="0.24">+/−14</text>
<text x="344.30" y="171.27" font-size="7.7" text-anchor="middle" fill="#1e2414" stroke="#1e2414" stroke-width="0.24">4</text>
<text x="344.30" y="180.57" font-size="7.7" text-anchor="middle" fill="#1e2414" stroke="#1e2414" stroke-width="0.24">+/−14</text>
<text x="287.90" y="197.67" font-size="7.7" text-anchor="middle" fill="#1e2414" stroke="#1e2414" stroke-width="0.24">2</text>
<text x="287.90" y="206.97" font-size="7.7" text-anchor="middle" fill="#1e2414" stroke="#1e2414" stroke-width="0.24">+/−11</text>
<text x="316.10" y="197.67" font-size="7.7" text-anchor="middle" fill="#1e2414" stroke="#1e2414" stroke-width="0.24">13</text>
<text x="316.10" y="206.97" font-size="7.7" text-anchor="middle" fill="#1e2414" stroke="#1e2414" stroke-width="0.24">+/−2</text>
<text x="316.10" y="213.82" font-size="7.0" text-anchor="middle" fill="#1e2414"  stroke="#1e2414" stroke-width="0.2">*</text>
<text x="344.30" y="197.67" font-size="7.7" text-anchor="middle" fill="#1e2414" stroke="#1e2414" stroke-width="0.24">14</text>
<text x="344.30" y="206.97" font-size="7.7" text-anchor="middle" fill="#1e2414" stroke="#1e2414" stroke-width="0.24">+/−1</text>
<text x="344.30" y="213.82" font-size="7.0" text-anchor="middle" fill="#1e2414"  stroke="#1e2414" stroke-width="0.2">*</text>
<text x="287.90" y="224.07" font-size="7.7" text-anchor="middle" fill="#1e2414" stroke="#1e2414" stroke-width="0.24">3</text>
<text x="287.90" y="233.37" font-size="7.7" text-anchor="middle" fill="#1e2414" stroke="#1e2414" stroke-width="0.24">+/−17</text>
<text x="316.10" y="224.07" font-size="7.7" text-anchor="middle" fill="#1e2414" stroke="#1e2414" stroke-width="0.24">12</text>
<text x="316.10" y="233.37" font-size="7.7" text-anchor="middle" fill="#1e2414" stroke="#1e2414" stroke-width="0.24">+/−3</text>
<text x="316.10" y="240.22" font-size="7.0" text-anchor="middle" fill="#1e2414"  stroke="#1e2414" stroke-width="0.2">*</text>
<text x="344.30" y="224.07" font-size="7.7" text-anchor="middle" fill="#1e2414" stroke="#1e2414" stroke-width="0.24">16</text>
<text x="344.30" y="233.37" font-size="7.7" text-anchor="middle" fill="#1e2414" stroke="#1e2414" stroke-width="0.24">+/−5</text>
<text x="344.30" y="240.22" font-size="7.0" text-anchor="middle" fill="#1e2414"  stroke="#1e2414" stroke-width="0.2">*</text>
<text x="445.30" y="133.08" font-size="8.0" text-anchor="middle" fill="#1a1a1a"  stroke="#1a1a1a" stroke-width="0.2">Granta 519</text>
<text x="446.30" y="143.66" font-size="7.4" text-anchor="middle" fill="#1a1a1a"  stroke="#1a1a1a" stroke-width="0.2">Venetoclax [\uM]</text>
<text x="383.30" y="151.66" font-size="7.4" text-anchor="start" fill="#1a1a1a"  stroke="#1a1a1a" stroke-width="0.2">N = 3</text>
<text x="416.70" y="157.17" font-size="7.7" text-anchor="middle" fill="#1a1a1a"  stroke="#1a1a1a" stroke-width="0.2">0.001</text>
<text x="444.10" y="157.17" font-size="7.7" text-anchor="middle" fill="#1a1a1a"  stroke="#1a1a1a" stroke-width="0.2">0.01</text>
<text x="471.50" y="157.17" font-size="7.7" text-anchor="middle" fill="#1a1a1a"  stroke="#1a1a1a" stroke-width="0.2">0.1</text>
<text x="400.30" y="178.04" font-size="7.6" text-anchor="end" fill="#1a1a1a"  stroke="#1a1a1a" stroke-width="0.2">0.001</text>
<text x="400.30" y="204.64" font-size="7.6" text-anchor="end" fill="#1a1a1a"  stroke="#1a1a1a" stroke-width="0.2">0.01</text>
<text x="400.30" y="231.24" font-size="7.6" text-anchor="end" fill="#1a1a1a"  stroke="#1a1a1a" stroke-width="0.2">0.1</text>
<g transform="translate(372.30,200.90) rotate(-90) scale(0.75,1)"><text x="0" y="3.24" font-size="9.0" text-anchor="middle" fill="#1a1a1a" stroke="#1a1a1a" stroke-width="0.3">PRT382 [\uM]</text></g>
<rect x="404.20" y="162.00" width="27.40" height="26.60" fill="#a2c452" />
<rect x="431.60" y="162.00" width="27.40" height="26.60" fill="#a2c452" />
<rect x="459.00" y="162.00" width="27.40" height="26.60" fill="#a2c452" />
<rect x="404.20" y="188.60" width="27.40" height="26.60" fill="#a2c452" />
<rect x="431.60" y="188.60" width="27.40" height="26.60" fill="#a2c452" />
<rect x="459.00" y="188.60" width="27.40" height="26.60" fill="#a2c452" />
<rect x="404.20" y="215.20" width="27.40" height="26.60" fill="#a2c452" />
<rect x="431.60" y="215.20" width="27.40" height="26.60" fill="#a2c452" />
<rect x="459.00" y="215.20" width="27.40" height="26.60" fill="#323296" />
<line x1="404.20" y1="162.00" x2="404.20" y2="241.80" stroke="#1d2a10" stroke-width="1.0" />
<line x1="431.60" y1="162.00" x2="431.60" y2="241.80" stroke="#1d2a10" stroke-width="1.0" />
<line x1="459.00" y1="162.00" x2="459.00" y2="241.80" stroke="#1d2a10" stroke-width="1.0" />
<line x1="486.40" y1="162.00" x2="486.40" y2="241.80" stroke="#1d2a10" stroke-width="1.0" />
<line x1="404.20" y1="162.00" x2="486.40" y2="162.00" stroke="#1d2a10" stroke-width="1.0" />
<line x1="404.20" y1="188.60" x2="486.40" y2="188.60" stroke="#1d2a10" stroke-width="1.0" />
<line x1="404.20" y1="215.20" x2="486.40" y2="215.20" stroke="#1d2a10" stroke-width="1.0" />
<line x1="404.20" y1="241.80" x2="486.40" y2="241.80" stroke="#1d2a10" stroke-width="1.0" />
<text x="417.90" y="170.97" font-size="7.7" text-anchor="middle" fill="#1e2414" stroke="#1e2414" stroke-width="0.24">−1</text>
<text x="417.90" y="180.27" font-size="7.7" text-anchor="middle" fill="#1e2414" stroke="#1e2414" stroke-width="0.24">+/−6</text>
<text x="445.30" y="170.97" font-size="7.7" text-anchor="middle" fill="#1e2414" stroke="#1e2414" stroke-width="0.24">5</text>
<text x="445.30" y="180.27" font-size="7.7" text-anchor="middle" fill="#1e2414" stroke="#1e2414" stroke-width="0.24">+/−10</text>
<text x="472.70" y="170.97" font-size="7.7" text-anchor="middle" fill="#1e2414" stroke="#1e2414" stroke-width="0.24">7</text>
<text x="472.70" y="180.27" font-size="7.7" text-anchor="middle" fill="#1e2414" stroke="#1e2414" stroke-width="0.24">+/−5</text>
<text x="417.90" y="197.57" font-size="7.7" text-anchor="middle" fill="#1e2414" stroke="#1e2414" stroke-width="0.24">−5</text>
<text x="417.90" y="206.87" font-size="7.7" text-anchor="middle" fill="#1e2414" stroke="#1e2414" stroke-width="0.24">+/−8</text>
<text x="445.30" y="197.57" font-size="7.7" text-anchor="middle" fill="#1e2414" stroke="#1e2414" stroke-width="0.24">−1</text>
<text x="445.30" y="206.87" font-size="7.7" text-anchor="middle" fill="#1e2414" stroke="#1e2414" stroke-width="0.24">+/−6</text>
<text x="472.70" y="197.57" font-size="7.7" text-anchor="middle" fill="#1e2414" stroke="#1e2414" stroke-width="0.24">1</text>
<text x="472.70" y="206.87" font-size="7.7" text-anchor="middle" fill="#1e2414" stroke="#1e2414" stroke-width="0.24">+/−14</text>
<text x="417.90" y="224.17" font-size="7.7" text-anchor="middle" fill="#1e2414" stroke="#1e2414" stroke-width="0.24">15</text>
<text x="417.90" y="233.47" font-size="7.7" text-anchor="middle" fill="#1e2414" stroke="#1e2414" stroke-width="0.24">+/−20</text>
<text x="445.30" y="224.17" font-size="7.7" text-anchor="middle" fill="#1e2414" stroke="#1e2414" stroke-width="0.24">26</text>
<text x="445.30" y="233.47" font-size="7.7" text-anchor="middle" fill="#1e2414" stroke="#1e2414" stroke-width="0.24">+/−14</text>
<text x="472.70" y="224.17" font-size="7.7" text-anchor="middle" fill="#f4f4f8" stroke="#f4f4f8" stroke-width="0.24">35</text>
<text x="472.70" y="233.47" font-size="7.7" text-anchor="middle" fill="#f4f4f8" stroke="#f4f4f8" stroke-width="0.24">+/−7</text>
<text x="472.70" y="240.32" font-size="7.0" text-anchor="middle" fill="#f4f4f8"  stroke="#f4f4f8" stroke-width="0.2">*</text>
<rect x="489.00" y="162.00" width="5.2" height="79.80" fill="url(#cbar)" stroke="#222" stroke-width="0.6"/>
<g transform="translate(499.80,178.00) rotate(-90) scale(1.0,1)"><text x="0" y="2.70" font-size="7.5" text-anchor="middle" fill="#1a1a1a" stroke="#1a1a1a" stroke-width="0.12">Synergy</text></g>
<g transform="translate(499.80,218.20) rotate(-90) scale(1.0,1)"><text x="0" y="2.70" font-size="7.5" text-anchor="middle" fill="#1a1a1a" stroke="#1a1a1a" stroke-width="0.12">Antagonism</text></g>
<text x="10.90" y="271.70" font-size="10.4" text-anchor="start" fill="#000" font-weight="bold" stroke="#000" stroke-width="0.35">C</text>
<text x="134.80" y="294.16" font-size="7.4" text-anchor="middle" fill="#1a1a1a"  stroke="#1a1a1a" stroke-width="0.2">Synergy Score</text>
<line x1="57.50" y1="299.50" x2="57.50" y2="391.00" stroke="#1a1a1a" stroke-width="1.0" />
<line x1="57.00" y1="390.50" x2="212.00" y2="390.50" stroke="#1a1a1a" stroke-width="1.0" />
<line x1="55.00" y1="303.00" x2="57.50" y2="303.00" stroke="#222" stroke-width="0.8" />
<text x="51.60" y="305.74" font-size="7.6" text-anchor="end" fill="#1a1a1a"  stroke="#1a1a1a" stroke-width="0.2">80</text>
<line x1="55.00" y1="319.00" x2="57.50" y2="319.00" stroke="#222" stroke-width="0.8" />
<text x="51.60" y="321.74" font-size="7.6" text-anchor="end" fill="#1a1a1a"  stroke="#1a1a1a" stroke-width="0.2">60</text>
<line x1="55.00" y1="335.00" x2="57.50" y2="335.00" stroke="#222" stroke-width="0.8" />
<text x="51.60" y="337.74" font-size="7.6" text-anchor="end" fill="#1a1a1a"  stroke="#1a1a1a" stroke-width="0.2">40</text>
<line x1="55.00" y1="351.00" x2="57.50" y2="351.00" stroke="#222" stroke-width="0.8" />
<text x="51.60" y="353.74" font-size="7.6" text-anchor="end" fill="#1a1a1a"  stroke="#1a1a1a" stroke-width="0.2">20</text>
<line x1="55.00" y1="367.00" x2="57.50" y2="367.00" stroke="#222" stroke-width="0.8" />
<text x="51.60" y="369.74" font-size="7.6" text-anchor="end" fill="#1a1a1a"  stroke="#1a1a1a" stroke-width="0.2">0</text>
<line x1="55.00" y1="383.00" x2="57.50" y2="383.00" stroke="#222" stroke-width="0.8" />
<text x="51.60" y="385.74" font-size="7.6" text-anchor="end" fill="#1a1a1a"  stroke="#1a1a1a" stroke-width="0.2">−20</text>
<rect x="64.30" y="316.60" width="9.30" height="50.40" fill="#24336e" />
<line x1="68.95" y1="390.60" x2="68.95" y2="393.30" stroke="#222" stroke-width="0.8" />
<g transform="translate(70.95,399.60) rotate(-45)"><text x="0" y="2.6" font-size="7.5" text-anchor="end" fill="#1a1a1a" stroke="#1a1a1a" stroke-width="0.2">Z-13B</text></g>
<rect x="80.80" y="331.80" width="9.30" height="35.20" fill="#24336e" />
<line x1="85.45" y1="390.60" x2="85.45" y2="393.30" stroke="#222" stroke-width="0.8" />
<g transform="translate(87.45,399.60) rotate(-45)"><text x="0" y="2.6" font-size="7.5" text-anchor="end" fill="#1a1a1a" stroke="#1a1a1a" stroke-width="0.2">SP53</text></g>
<rect x="97.30" y="348.20" width="9.30" height="18.80" fill="#24336e" />
<line x1="101.95" y1="390.60" x2="101.95" y2="393.30" stroke="#222" stroke-width="0.8" />
<g transform="translate(103.95,399.60) rotate(-45)"><text x="0" y="2.6" font-size="7.5" text-anchor="end" fill="#1a1a1a" stroke="#1a1a1a" stroke-width="0.2">Jeko</text></g>
<rect x="113.80" y="350.20" width="9.30" height="16.80" fill="#24336e" />
<line x1="118.45" y1="390.60" x2="118.45" y2="393.30" stroke="#222" stroke-width="0.8" />
<g transform="translate(120.45,399.60) rotate(-45)"><text x="0" y="2.6" font-size="7.5" text-anchor="end" fill="#1a1a1a" stroke="#1a1a1a" stroke-width="0.2">Mino</text></g>
<rect x="130.30" y="355.00" width="9.30" height="12.00" fill="#24336e" />
<line x1="134.95" y1="390.60" x2="134.95" y2="393.30" stroke="#222" stroke-width="0.8" />
<g transform="translate(136.95,399.60) rotate(-45)"><text x="0" y="2.6" font-size="7.5" text-anchor="end" fill="#1a1a1a" stroke="#1a1a1a" stroke-width="0.2">Granta 519</text></g>
<rect x="146.80" y="357.40" width="9.30" height="9.60" fill="#24336e" />
<line x1="151.45" y1="390.60" x2="151.45" y2="393.30" stroke="#222" stroke-width="0.8" />
<g transform="translate(153.45,399.60) rotate(-45)"><text x="0" y="2.6" font-size="7.5" text-anchor="end" fill="#1a1a1a" stroke="#1a1a1a" stroke-width="0.2">Rec-1</text></g>
<rect x="163.30" y="365.40" width="9.30" height="1.60" fill="#24336e" />
<line x1="167.95" y1="390.60" x2="167.95" y2="393.30" stroke="#222" stroke-width="0.8" />
<g transform="translate(169.95,399.60) rotate(-45)"><text x="0" y="2.6" font-size="7.5" text-anchor="end" fill="#1a1a1a" stroke="#1a1a1a" stroke-width="0.2">UPN-1</text></g>
<rect x="179.80" y="367.00" width="9.30" height="0.80" fill="#24336e" />
<line x1="184.45" y1="390.60" x2="184.45" y2="393.30" stroke="#222" stroke-width="0.8" />
<g transform="translate(186.45,399.60) rotate(-45)"><text x="0" y="2.6" font-size="7.5" text-anchor="end" fill="#1a1a1a" stroke="#1a1a1a" stroke-width="0.2">Maver-1</text></g>
<rect x="196.30" y="367.00" width="9.30" height="15.20" fill="#24336e" />
<line x1="200.95" y1="390.60" x2="200.95" y2="393.30" stroke="#222" stroke-width="0.8" />
<g transform="translate(202.95,399.60) rotate(-45)"><text x="0" y="2.6" font-size="7.5" text-anchor="end" fill="#1a1a1a" stroke="#1a1a1a" stroke-width="0.2">CCMCL-1</text></g>
<line x1="57.50" y1="367.00" x2="212.00" y2="367.00" stroke="#5a524c" stroke-width="0.9" />
<g transform="translate(29.80,344.80) rotate(-90) scale(0.69,1)"><text x="0" y="3.24" font-size="9.0" text-anchor="middle" fill="#1a1a1a" stroke="#1a1a1a" stroke-width="0.3">Loewe score</text></g>
<text x="288.90" y="272.50" font-size="10.4" text-anchor="start" fill="#000" font-weight="bold" stroke="#000" stroke-width="0.35">D</text>
<g transform="translate(313.30,303.90) rotate(-90)"><text x="0" y="0" font-size="7.7" text-anchor="start" fill="#1a1a1a" stroke="#1a1a1a" stroke-width="0.2">Granta 519</text></g>
<g transform="translate(328.50,303.90) rotate(-90)"><text x="0" y="0" font-size="7.7" text-anchor="start" fill="#1a1a1a" stroke="#1a1a1a" stroke-width="0.2">Z-138</text></g>
<g transform="translate(344.10,303.90) rotate(-90)"><text x="0" y="0" font-size="7.7" text-anchor="start" fill="#1a1a1a" stroke="#1a1a1a" stroke-width="0.2">Jeko</text></g>
<g transform="translate(358.90,303.90) rotate(-90)"><text x="0" y="0" font-size="7.7" text-anchor="start" fill="#1a1a1a" stroke="#1a1a1a" stroke-width="0.2">Maver-1</text></g>
<g transform="translate(373.70,303.90) rotate(-90)"><text x="0" y="0" font-size="7.7" text-anchor="start" fill="#1a1a1a" stroke="#1a1a1a" stroke-width="0.2">Rec-1</text></g>
<g transform="translate(388.50,303.90) rotate(-90)"><text x="0" y="0" font-size="7.7" text-anchor="start" fill="#1a1a1a" stroke="#1a1a1a" stroke-width="0.2">SP53</text></g>
<g transform="translate(403.90,303.90) rotate(-90)"><text x="0" y="0" font-size="7.7" text-anchor="start" fill="#1a1a1a" stroke="#1a1a1a" stroke-width="0.2">UPN1</text></g>
<g transform="translate(420.00,303.90) rotate(-90)"><text x="0" y="0" font-size="7.7" text-anchor="start" fill="#1a1a1a" stroke="#1a1a1a" stroke-width="0.2">Mino</text></g>
<g transform="translate(435.00,303.90) rotate(-90)"><text x="0" y="0" font-size="7.7" text-anchor="start" fill="#1a1a1a" stroke="#1a1a1a" stroke-width="0.2">CCMCL1</text></g>
<g transform="translate(448.90,303.90) rotate(-90)"><text x="0" y="0" font-size="7.7" text-anchor="start" fill="#1a1a1a" stroke="#1a1a1a" stroke-width="0.2">ND B Cells</text></g>
<g transform="translate(459.90,303.90) rotate(-90)"><text x="0" y="0" font-size="7.7" text-anchor="start" fill="#1a1a1a" stroke="#1a1a1a" stroke-width="0.2">ND B Cells</text></g>
<g transform="translate(469.70,303.90) rotate(-90)"><text x="0" y="0" font-size="7.7" text-anchor="start" fill="#1a1a1a" stroke="#1a1a1a" stroke-width="0.2">+ Stim</text></g>
<rect x="301.80" y="306.20" width="169.40" height="15.40" fill="#cdcdcd"/>
<rect x="301.80" y="306.20" width="169.40" height="4" fill="#bdbdbd" filter="url(#bl2)"/>
<rect x="305.00" y="313.50" width="11.00" height="4.50" rx="0.80" fill="rgb(195,195,195)" filter="url(#bl)"/>
<rect x="305.00" y="312.00" width="11.00" height="3.00" rx="1.00" fill="rgb(186,186,186)" filter="url(#bl)"/>
<rect x="320.65" y="313.90" width="11.50" height="5.10" rx="0.80" fill="rgb(113,113,113)" filter="url(#bl)"/>
<rect x="320.65" y="313.00" width="11.50" height="1.80" rx="0.90" fill="rgb(59,59,59)" filter="url(#bl)"/>
<rect x="335.00" y="313.40" width="12.00" height="6.20" rx="0.80" fill="rgb(84,84,84)" filter="url(#bl)"/>
<rect x="335.00" y="311.60" width="12.00" height="3.60" rx="1.00" fill="rgb(16,16,16)" filter="url(#bl)"/>
<rect x="350.00" y="313.10" width="12.00" height="6.10" rx="0.80" fill="rgb(94,94,94)" filter="url(#bl)"/>
<rect x="350.00" y="311.50" width="12.00" height="3.20" rx="1.00" fill="rgb(20,20,20)" filter="url(#bl)"/>
<rect x="365.25" y="314.20" width="11.50" height="4.00" rx="0.80" fill="rgb(123,123,123)" filter="url(#bl)"/>
<rect x="365.25" y="313.30" width="11.50" height="1.80" rx="0.90" fill="rgb(68,68,68)" filter="url(#bl)"/>
<rect x="380.30" y="314.60" width="12.20" height="4.40" rx="0.80" fill="rgb(94,94,94)" filter="url(#bl)"/>
<rect x="380.30" y="313.00" width="12.20" height="3.20" rx="1.00" fill="rgb(30,30,30)" filter="url(#bl)"/>
<rect x="395.40" y="312.70" width="12.80" height="6.60" rx="0.80" fill="rgb(65,65,65)" filter="url(#bl)"/>
<rect x="395.40" y="310.20" width="12.80" height="5.00" rx="1.00" fill="rgb(10,10,10)" filter="url(#bl)"/>
<rect x="411.30" y="313.80" width="12.00" height="5.00" rx="0.80" fill="rgb(104,104,104)" filter="url(#bl)"/>
<rect x="411.30" y="312.40" width="12.00" height="2.80" rx="1.00" fill="rgb(30,30,30)" filter="url(#bl)"/>
<rect x="426.70" y="313.80" width="12.00" height="5.20" rx="0.80" fill="rgb(94,94,94)" filter="url(#bl)"/>
<rect x="426.70" y="312.20" width="12.00" height="3.20" rx="1.00" fill="rgb(26,26,26)" filter="url(#bl)"/>
<rect x="441.55" y="314.00" width="12.50" height="4.60" rx="0.80" fill="rgb(104,104,104)" filter="url(#bl)"/>
<rect x="441.55" y="312.50" width="12.50" height="3.00" rx="1.00" fill="rgb(26,26,26)" filter="url(#bl)"/>
<rect x="457.25" y="314.30" width="10.50" height="3.20" rx="0.80" fill="rgb(123,123,123)" filter="url(#bl)"/>
<rect x="457.25" y="313.20" width="10.50" height="2.20" rx="1.00" fill="rgb(59,59,59)" filter="url(#bl)"/>
<rect x="301.80" y="306.20" width="169.40" height="15.40" fill="none" stroke="#1e1e1e" stroke-width="1.3"/>
<text x="476.20" y="316.64" font-size="7.6" text-anchor="start" fill="#1a1a1a"  stroke="#1a1a1a" stroke-width="0.2">FOXO1</text>
<text x="312.00" y="330.77" font-size="7.7" text-anchor="middle" fill="#1a1a1a"  stroke="#1a1a1a" stroke-width="0.2">0.0*</text>
<text x="326.40" y="330.77" font-size="7.7" text-anchor="middle" fill="#1a1a1a"  stroke="#1a1a1a" stroke-width="0.2">0.5</text>
<text x="341.00" y="330.77" font-size="7.7" text-anchor="middle" fill="#1a1a1a"  stroke="#1a1a1a" stroke-width="0.2">1</text>
<text x="356.00" y="330.77" font-size="7.7" text-anchor="middle" fill="#1a1a1a"  stroke="#1a1a1a" stroke-width="0.2">0.8</text>
<text x="371.00" y="330.77" font-size="7.7" text-anchor="middle" fill="#1a1a1a"  stroke="#1a1a1a" stroke-width="0.2">3.9</text>
<text x="386.40" y="330.77" font-size="7.7" text-anchor="middle" fill="#1a1a1a"  stroke="#1a1a1a" stroke-width="0.2">0.5</text>
<text x="401.80" y="330.77" font-size="7.7" text-anchor="middle" fill="#1a1a1a"  stroke="#1a1a1a" stroke-width="0.2">7.7</text>
<text x="417.30" y="330.77" font-size="7.7" text-anchor="middle" fill="#1a1a1a"  stroke="#1a1a1a" stroke-width="0.2">1.4</text>
<text x="432.70" y="330.77" font-size="7.7" text-anchor="middle" fill="#1a1a1a"  stroke="#1a1a1a" stroke-width="0.2">1.5</text>
<text x="447.80" y="330.77" font-size="7.7" text-anchor="middle" fill="#1a1a1a"  stroke="#1a1a1a" stroke-width="0.2">2.0</text>
<text x="462.50" y="330.77" font-size="7.7" text-anchor="middle" fill="#1a1a1a"  stroke="#1a1a1a" stroke-width="0.2">0.4</text>
<rect x="301.80" y="335.00" width="169.40" height="14.20" fill="#c6c6c6"/>
<rect x="301.80" y="335.00" width="93.17" height="6" fill="#a9a9a9" filter="url(#bl2)"/>
<rect x="303.90" y="342.10" width="13.20" height="2.20" rx="1.10" fill="rgb(59,59,59)" filter="url(#bl)"/>
<rect x="319.80" y="341.90" width="13.20" height="2.20" rx="1.10" fill="rgb(49,49,49)" filter="url(#bl)"/>
<rect x="334.40" y="341.70" width="13.20" height="2.20" rx="1.10" fill="rgb(59,59,59)" filter="url(#bl)"/>
<rect x="349.40" y="341.20" width="13.20" height="2.20" rx="1.10" fill="rgb(53,53,53)" filter="url(#bl)"/>
<rect x="364.40" y="340.50" width="13.20" height="2.20" rx="1.10" fill="rgb(45,45,45)" filter="url(#bl)"/>
<rect x="379.80" y="340.10" width="13.20" height="2.20" rx="1.10" fill="rgb(33,33,33)" filter="url(#bl)"/>
<rect x="395.20" y="340.20" width="13.20" height="2.20" rx="1.10" fill="rgb(166,166,166)" filter="url(#bl)"/>
<rect x="410.70" y="339.90" width="13.20" height="2.20" rx="1.10" fill="rgb(39,39,39)" filter="url(#bl)"/>
<rect x="426.10" y="339.90" width="13.20" height="2.20" rx="1.10" fill="rgb(45,45,45)" filter="url(#bl)"/>
<rect x="441.20" y="339.80" width="13.20" height="2.20" rx="1.10" fill="rgb(33,33,33)" filter="url(#bl)"/>
<rect x="455.90" y="339.50" width="13.20" height="2.20" rx="1.10" fill="rgb(30,30,30)" filter="url(#bl)"/>
<rect x="301.80" y="335.00" width="169.40" height="14.20" fill="none" stroke="#1e1e1e" stroke-width="1.3"/>
<text x="476.20" y="344.84" font-size="7.6" text-anchor="start" fill="#1a1a1a"  stroke="#1a1a1a" stroke-width="0.2">BAX</text>
<text x="310.50" y="358.27" font-size="7.7" text-anchor="middle" fill="#1a1a1a"  stroke="#1a1a1a" stroke-width="0.2">1.2</text>
<text x="326.40" y="358.27" font-size="7.7" text-anchor="middle" fill="#1a1a1a"  stroke="#1a1a1a" stroke-width="0.2">4.4</text>
<text x="341.00" y="358.27" font-size="7.7" text-anchor="middle" fill="#1a1a1a"  stroke="#1a1a1a" stroke-width="0.2">1</text>
<text x="356.00" y="358.27" font-size="7.7" text-anchor="middle" fill="#1a1a1a"  stroke="#1a1a1a" stroke-width="0.2">2.2</text>
<text x="371.00" y="358.27" font-size="7.7" text-anchor="middle" fill="#1a1a1a"  stroke="#1a1a1a" stroke-width="0.2">65</text>
<text x="386.40" y="358.27" font-size="7.7" text-anchor="middle" fill="#1a1a1a"  stroke="#1a1a1a" stroke-width="0.2">4.7</text>
<text x="401.80" y="358.27" font-size="7.7" text-anchor="middle" fill="#1a1a1a"  stroke="#1a1a1a" stroke-width="0.2">3.1</text>
<text x="417.30" y="358.27" font-size="7.7" text-anchor="middle" fill="#1a1a1a"  stroke="#1a1a1a" stroke-width="0.2">8.4</text>
<text x="432.70" y="358.27" font-size="7.7" text-anchor="middle" fill="#1a1a1a"  stroke="#1a1a1a" stroke-width="0.2">3.5</text>
<text x="447.80" y="358.27" font-size="7.7" text-anchor="middle" fill="#1a1a1a"  stroke="#1a1a1a" stroke-width="0.2">9.1</text>
<text x="462.50" y="358.27" font-size="7.7" text-anchor="middle" fill="#1a1a1a"  stroke="#1a1a1a" stroke-width="0.2">6.7</text>
<rect x="301.80" y="362.40" width="169.40" height="11.40" fill="#dbdbdb"/>
<rect x="303.90" y="366.00" width="13.20" height="2.00" rx="1.00" fill="rgb(98,98,98)" filter="url(#bl)"/>
<rect x="319.80" y="366.00" width="13.20" height="2.00" rx="1.00" fill="rgb(68,68,68)" filter="url(#bl)"/>
<rect x="334.40" y="366.00" width="13.20" height="2.00" rx="1.00" fill="rgb(39,39,39)" filter="url(#bl)"/>
<rect x="349.40" y="366.00" width="13.20" height="2.00" rx="1.00" fill="rgb(49,49,49)" filter="url(#bl)"/>
<rect x="364.40" y="366.00" width="13.20" height="2.00" rx="1.00" fill="rgb(49,49,49)" filter="url(#bl)"/>
<rect x="379.80" y="366.00" width="13.20" height="2.00" rx="1.00" fill="rgb(49,49,49)" filter="url(#bl)"/>
<rect x="395.20" y="366.00" width="13.20" height="2.00" rx="1.00" fill="rgb(39,39,39)" filter="url(#bl)"/>
<rect x="410.70" y="366.00" width="13.20" height="2.00" rx="1.00" fill="rgb(45,45,45)" filter="url(#bl)"/>
<rect x="426.10" y="366.00" width="13.20" height="2.00" rx="1.00" fill="rgb(39,39,39)" filter="url(#bl)"/>
<rect x="441.20" y="366.00" width="13.20" height="2.00" rx="1.00" fill="rgb(182,182,182)" filter="url(#bl)"/>
<rect x="455.90" y="366.00" width="13.20" height="2.00" rx="1.00" fill="rgb(182,182,182)" filter="url(#bl)"/>
<rect x="301.80" y="362.40" width="169.40" height="11.40" fill="none" stroke="#1e1e1e" stroke-width="1.3"/>
<text x="476.20" y="370.84" font-size="7.6" text-anchor="start" fill="#1a1a1a"  stroke="#1a1a1a" stroke-width="0.2">PRMT5</text>
<text x="310.50" y="383.77" font-size="7.7" text-anchor="middle" fill="#1a1a1a"  stroke="#1a1a1a" stroke-width="0.2">0.2</text>
<text x="326.40" y="383.77" font-size="7.7" text-anchor="middle" fill="#1a1a1a"  stroke="#1a1a1a" stroke-width="0.2">0.5</text>
<text x="341.00" y="383.77" font-size="7.7" text-anchor="middle" fill="#1a1a1a"  stroke="#1a1a1a" stroke-width="0.2">1</text>
<text x="356.00" y="383.77" font-size="7.7" text-anchor="middle" fill="#1a1a1a"  stroke="#1a1a1a" stroke-width="0.2">0.5</text>
<text x="371.00" y="383.77" font-size="7.7" text-anchor="middle" fill="#1a1a1a"  stroke="#1a1a1a" stroke-width="0.2">3.2</text>
<text x="386.40" y="383.77" font-size="7.7" text-anchor="middle" fill="#1a1a1a"  stroke="#1a1a1a" stroke-width="0.2">0.3</text>
<text x="401.80" y="383.77" font-size="7.7" text-anchor="middle" fill="#1a1a1a"  stroke="#1a1a1a" stroke-width="0.2">1.1</text>
<text x="417.30" y="383.77" font-size="7.7" text-anchor="middle" fill="#1a1a1a"  stroke="#1a1a1a" stroke-width="0.2">1.2</text>
<text x="432.70" y="383.77" font-size="7.7" text-anchor="middle" fill="#1a1a1a"  stroke="#1a1a1a" stroke-width="0.2">1.2</text>
<text x="447.80" y="383.77" font-size="7.7" text-anchor="middle" fill="#1a1a1a"  stroke="#1a1a1a" stroke-width="0.2">0.1</text>
<text x="462.50" y="383.77" font-size="7.7" text-anchor="middle" fill="#1a1a1a"  stroke="#1a1a1a" stroke-width="0.2">0.1</text>
<rect x="301.80" y="389.00" width="169.40" height="12.40" fill="#d8d8d8"/>
<rect x="303.90" y="393.60" width="13.20" height="2.80" rx="1.40" fill="rgb(26,26,26)" filter="url(#bl)"/>
<rect x="320.35" y="394.00" width="12.10" height="2.20" rx="1.10" fill="rgb(39,39,39)" filter="url(#bl)"/>
<rect x="335.50" y="394.30" width="11.00" height="1.80" rx="0.90" fill="rgb(49,49,49)" filter="url(#bl)"/>
<rect x="346.93" y="392.80" width="18.15" height="6.00" rx="3.00" fill="rgb(10,10,10)" filter="url(#bl)"/>
<rect x="364.40" y="393.80" width="13.20" height="2.80" rx="1.40" fill="rgb(30,30,30)" filter="url(#bl)"/>
<rect x="380.35" y="394.20" width="12.10" height="2.20" rx="1.10" fill="rgb(39,39,39)" filter="url(#bl)"/>
<rect x="410.70" y="393.70" width="13.20" height="2.70" rx="1.35" fill="rgb(30,30,30)" filter="url(#bl)"/>
<rect x="427.20" y="394.40" width="11.00" height="1.60" rx="0.80" fill="rgb(176,176,176)" filter="url(#bl)"/>
<rect x="440.93" y="393.60" width="13.75" height="3.20" rx="1.60" fill="rgb(20,20,20)" filter="url(#bl)"/>
<rect x="455.35" y="393.00" width="14.30" height="3.60" rx="1.80" fill="rgb(16,16,16)" filter="url(#bl)"/>
<rect x="301.80" y="389.00" width="169.40" height="12.40" fill="none" stroke="#1e1e1e" stroke-width="1.3"/>
<text x="476.20" y="397.94" font-size="7.6" text-anchor="start" fill="#1a1a1a"  stroke="#1a1a1a" stroke-width="0.2">BCL2</text>
<text x="310.50" y="408.97" font-size="7.7" text-anchor="middle" fill="#1a1a1a"  stroke="#1a1a1a" stroke-width="0.2">3.8</text>
<text x="326.40" y="408.97" font-size="7.7" text-anchor="middle" fill="#1a1a1a"  stroke="#1a1a1a" stroke-width="0.2">2.2</text>
<text x="341.00" y="408.97" font-size="7.7" text-anchor="middle" fill="#1a1a1a"  stroke="#1a1a1a" stroke-width="0.2">1</text>
<text x="356.00" y="408.97" font-size="7.7" text-anchor="middle" fill="#1a1a1a"  stroke="#1a1a1a" stroke-width="0.2">12</text>
<text x="371.00" y="408.97" font-size="7.7" text-anchor="middle" fill="#1a1a1a"  stroke="#1a1a1a" stroke-width="0.2">10.4</text>
<text x="386.40" y="408.97" font-size="7.7" text-anchor="middle" fill="#1a1a1a"  stroke="#1a1a1a" stroke-width="0.2">0.9</text>
<text x="401.80" y="408.97" font-size="7.7" text-anchor="middle" fill="#1a1a1a"  stroke="#1a1a1a" stroke-width="0.2">X</text>
<text x="417.30" y="408.97" font-size="7.7" text-anchor="middle" fill="#1a1a1a"  stroke="#1a1a1a" stroke-width="0.2">5.1</text>
<text x="432.70" y="408.97" font-size="7.7" text-anchor="middle" fill="#1a1a1a"  stroke="#1a1a1a" stroke-width="0.2">0.1</text>
<text x="447.80" y="408.97" font-size="7.7" text-anchor="middle" fill="#1a1a1a"  stroke="#1a1a1a" stroke-width="0.2">6.2</text>
<text x="462.50" y="408.97" font-size="7.7" text-anchor="middle" fill="#1a1a1a"  stroke="#1a1a1a" stroke-width="0.2">6.6</text>
<rect x="301.80" y="414.20" width="169.40" height="14.00" fill="#b0b0b0"/>
<rect x="303.80" y="421.90" width="13.40" height="3.00" rx="1.50" fill="rgb(26,26,26)" filter="url(#bl)"/>
<rect x="319.70" y="421.50" width="13.40" height="3.00" rx="1.50" fill="rgb(30,30,30)" filter="url(#bl)"/>
<rect x="334.30" y="421.10" width="13.40" height="3.00" rx="1.50" fill="rgb(30,30,30)" filter="url(#bl)"/>
<rect x="349.30" y="420.30" width="13.40" height="3.00" rx="1.50" fill="rgb(26,26,26)" filter="url(#bl)"/>
<rect x="364.30" y="420.30" width="13.40" height="3.00" rx="1.50" fill="rgb(137,137,137)" filter="url(#bl)"/>
<rect x="379.70" y="419.30" width="13.40" height="3.00" rx="1.50" fill="rgb(20,20,20)" filter="url(#bl)"/>
<rect x="395.10" y="419.00" width="13.40" height="3.00" rx="1.50" fill="rgb(59,59,59)" filter="url(#bl)"/>
<rect x="410.60" y="419.00" width="13.40" height="3.00" rx="1.50" fill="rgb(39,39,39)" filter="url(#bl)"/>
<rect x="426.00" y="419.00" width="13.40" height="3.00" rx="1.50" fill="rgb(39,39,39)" filter="url(#bl)"/>
<rect x="441.10" y="419.00" width="13.40" height="3.00" rx="1.50" fill="rgb(39,39,39)" filter="url(#bl)"/>
<rect x="455.80" y="418.80" width="13.40" height="3.00" rx="1.50" fill="rgb(39,39,39)" filter="url(#bl)"/>
<rect x="301.80" y="414.20" width="169.40" height="14.00" fill="none" stroke="#1e1e1e" stroke-width="1.3"/>
<text x="476.20" y="423.94" font-size="7.6" text-anchor="start" fill="#1a1a1a"  stroke="#1a1a1a" stroke-width="0.2">GAPDH</text>
<text x="310.50" y="437.37" font-size="7.7" text-anchor="middle" fill="#1a1a1a"  stroke="#1a1a1a" stroke-width="0.2">0.9</text>
<text x="326.40" y="437.37" font-size="7.7" text-anchor="middle" fill="#1a1a1a"  stroke="#1a1a1a" stroke-width="0.2">0.5</text>
<text x="341.00" y="437.37" font-size="7.7" text-anchor="middle" fill="#1a1a1a"  stroke="#1a1a1a" stroke-width="0.2">1</text>
<text x="356.00" y="437.37" font-size="7.7" text-anchor="middle" fill="#1a1a1a"  stroke="#1a1a1a" stroke-width="0.2">0.8</text>
<text x="371.00" y="437.37" font-size="7.7" text-anchor="middle" fill="#1a1a1a"  stroke="#1a1a1a" stroke-width="0.2">0.1</text>
<text x="386.40" y="437.37" font-size="7.7" text-anchor="middle" fill="#1a1a1a"  stroke="#1a1a1a" stroke-width="0.2">1.1</text>
<text x="401.80" y="437.37" font-size="7.7" text-anchor="middle" fill="#1a1a1a"  stroke="#1a1a1a" stroke-width="0.2">0.2</text>
<text x="417.30" y="437.37" font-size="7.7" text-anchor="middle" fill="#1a1a1a"  stroke="#1a1a1a" stroke-width="0.2">0.4</text>
<text x="432.70" y="437.37" font-size="7.7" text-anchor="middle" fill="#1a1a1a"  stroke="#1a1a1a" stroke-width="0.2">0.4</text>
<text x="447.80" y="437.37" font-size="7.7" text-anchor="middle" fill="#1a1a1a"  stroke="#1a1a1a" stroke-width="0.2">0.5</text>
<text x="462.50" y="437.37" font-size="7.7" text-anchor="middle" fill="#1a1a1a"  stroke="#1a1a1a" stroke-width="0.2">0.5</text>
<text x="10.40" y="460.20" font-size="10.4" text-anchor="start" fill="#000" font-weight="bold" stroke="#000" stroke-width="0.35">E</text>
<text x="95.00" y="483.16" font-size="7.4" text-anchor="middle" fill="#1a1a1a"  stroke="#1a1a1a" stroke-width="0.2">BCL-2 Expression vs Synergy Score</text>
<line x1="70.50" y1="494.50" x2="70.50" y2="591.80" stroke="#333" stroke-width="1.0" />
<line x1="16.60" y1="591.50" x2="173.00" y2="591.50" stroke="#1a1a1a" stroke-width="1.0" />
<line x1="19.10" y1="591.70" x2="19.10" y2="594.30" stroke="#222" stroke-width="0.8" />
<text x="19.10" y="604.24" font-size="7.6" text-anchor="middle" fill="#1a1a1a"  stroke="#1a1a1a" stroke-width="0.2">−40</text>
<line x1="44.50" y1="591.70" x2="44.50" y2="594.30" stroke="#222" stroke-width="0.8" />
<text x="44.50" y="604.24" font-size="7.6" text-anchor="middle" fill="#1a1a1a"  stroke="#1a1a1a" stroke-width="0.2">−20</text>
<line x1="69.90" y1="591.70" x2="69.90" y2="594.30" stroke="#222" stroke-width="0.8" />
<text x="69.90" y="604.24" font-size="7.6" text-anchor="middle" fill="#1a1a1a"  stroke="#1a1a1a" stroke-width="0.2">0</text>
<line x1="95.30" y1="591.70" x2="95.30" y2="594.30" stroke="#222" stroke-width="0.8" />
<text x="95.30" y="604.24" font-size="7.6" text-anchor="middle" fill="#1a1a1a"  stroke="#1a1a1a" stroke-width="0.2">20</text>
<line x1="120.70" y1="591.70" x2="120.70" y2="594.30" stroke="#222" stroke-width="0.8" />
<text x="120.70" y="604.24" font-size="7.6" text-anchor="middle" fill="#1a1a1a"  stroke="#1a1a1a" stroke-width="0.2">40</text>
<line x1="146.10" y1="591.70" x2="146.10" y2="594.30" stroke="#222" stroke-width="0.8" />
<text x="146.10" y="604.24" font-size="7.6" text-anchor="middle" fill="#1a1a1a"  stroke="#1a1a1a" stroke-width="0.2">60</text>
<line x1="171.50" y1="591.70" x2="171.50" y2="594.30" stroke="#222" stroke-width="0.8" />
<text x="171.50" y="604.24" font-size="7.6" text-anchor="middle" fill="#1a1a1a"  stroke="#1a1a1a" stroke-width="0.2">80</text>
<line x1="67.80" y1="497.25" x2="70.50" y2="497.25" stroke="#222" stroke-width="0.8" />
<text x="64.20" y="499.99" font-size="7.6" text-anchor="end" fill="#1a1a1a"  stroke="#1a1a1a" stroke-width="0.2">1.5</text>
<line x1="67.80" y1="528.70" x2="70.50" y2="528.70" stroke="#222" stroke-width="0.8" />
<text x="64.20" y="531.44" font-size="7.6" text-anchor="end" fill="#1a1a1a"  stroke="#1a1a1a" stroke-width="0.2">1.0</text>
<line x1="67.80" y1="560.15" x2="70.50" y2="560.15" stroke="#222" stroke-width="0.8" />
<text x="64.20" y="562.89" font-size="7.6" text-anchor="end" fill="#1a1a1a"  stroke="#1a1a1a" stroke-width="0.2">0.5</text>
<g transform="translate(45.30,528.50) rotate(-90) scale(0.73,1)"><text x="0" y="3.10" font-size="8.6" text-anchor="middle" fill="#1a1a1a" stroke="#1a1a1a" stroke-width="0.3">Relative BCL2 protein</text></g>
<g transform="translate(95.25,613.7) scale(0.72,1)"><text x="0" y="3.1" font-size="8.6" text-anchor="middle" fill="#1a1a1a" stroke="#1a1a1a" stroke-width="0.2">Lowe score</text></g>
<line x1="45.00" y1="584.50" x2="150.60" y2="544.00" stroke="#3a4868" stroke-width="1.0" />
<circle cx="45.00" cy="590.97" r="1.65" fill="#5e0a16"/>
<circle cx="74.21" cy="591.60" r="1.65" fill="#5e0a16"/>
<circle cx="89.45" cy="528.70" r="1.65" fill="#5e0a16"/>
<circle cx="86.02" cy="557.00" r="1.65" fill="#5e0a16"/>
<circle cx="98.34" cy="570.21" r="1.65" fill="#5e0a16"/>
<circle cx="99.86" cy="574.62" r="1.65" fill="#5e0a16"/>
<circle cx="125.90" cy="571.47" r="1.65" fill="#5e0a16"/>
<circle cx="150.41" cy="538.13" r="1.65" fill="#5e0a16"/>
<text x="122.00" y="509.28" font-size="8.0" text-anchor="middle" fill="#1a1a1a"  stroke="#1a1a1a" stroke-width="0.2">r = 0.4524</text>
<text x="105.5" y="521.10" font-size="8.0" fill="#1a1a1a" stroke="#1a1a1a" stroke-width="0.2"><tspan font-style="italic">P</tspan> = .2675</text>
<text x="190.70" y="460.10" font-size="10.4" text-anchor="start" fill="#000" font-weight="bold" stroke="#000" stroke-width="0.35">F</text>
<text x="251.60" y="493.00" font-size="7.5" text-anchor="middle" fill="#1a1a1a"  stroke="#1a1a1a" stroke-width="0.2">p53 Status and</text>
<text x="251.40" y="502.50" font-size="7.5" text-anchor="middle" fill="#1a1a1a"  stroke="#1a1a1a" stroke-width="0.2">Loewe Score</text>
<line x1="223.50" y1="507.30" x2="223.50" y2="591.80" stroke="#333" stroke-width="1.0" />
<line x1="223.00" y1="591.50" x2="279.00" y2="591.50" stroke="#1a1a1a" stroke-width="1.0" />
<line x1="250.60" y1="591.50" x2="250.60" y2="594.00" stroke="#222" stroke-width="0.8" />
<line x1="221.00" y1="508.70" x2="223.70" y2="508.70" stroke="#222" stroke-width="0.8" />
<text x="218.80" y="511.44" font-size="7.6" text-anchor="end" fill="#1a1a1a"  stroke="#1a1a1a" stroke-width="0.2">80</text>
<line x1="221.00" y1="522.40" x2="223.70" y2="522.40" stroke="#222" stroke-width="0.8" />
<text x="218.80" y="525.14" font-size="7.6" text-anchor="end" fill="#1a1a1a"  stroke="#1a1a1a" stroke-width="0.2">60</text>
<line x1="221.00" y1="536.10" x2="223.70" y2="536.10" stroke="#222" stroke-width="0.8" />
<text x="218.80" y="538.84" font-size="7.6" text-anchor="end" fill="#1a1a1a"  stroke="#1a1a1a" stroke-width="0.2">40</text>
<line x1="221.00" y1="549.80" x2="223.70" y2="549.80" stroke="#222" stroke-width="0.8" />
<text x="218.80" y="552.54" font-size="7.6" text-anchor="end" fill="#1a1a1a"  stroke="#1a1a1a" stroke-width="0.2">20</text>
<line x1="221.00" y1="563.50" x2="223.70" y2="563.50" stroke="#222" stroke-width="0.8" />
<text x="218.80" y="566.24" font-size="7.6" text-anchor="end" fill="#1a1a1a"  stroke="#1a1a1a" stroke-width="0.2">0</text>
<line x1="221.00" y1="577.20" x2="223.70" y2="577.20" stroke="#222" stroke-width="0.8" />
<text x="218.80" y="579.94" font-size="7.6" text-anchor="end" fill="#1a1a1a"  stroke="#1a1a1a" stroke-width="0.2">−20</text>
<line x1="221.00" y1="590.90" x2="223.70" y2="590.90" stroke="#222" stroke-width="0.8" />
<text x="218.80" y="593.64" font-size="7.6" text-anchor="end" fill="#1a1a1a"  stroke="#1a1a1a" stroke-width="0.2">−40</text>
<line x1="223.7" y1="563.50" x2="279" y2="563.50" stroke="#7a84a0" stroke-width="1.2" stroke-dasharray="1.2,1.0"/>
<g transform="translate(195.75,551.30) rotate(-90) scale(0.69,1)"><text x="0" y="3.24" font-size="9.0" text-anchor="middle" fill="#1a1a1a" stroke="#1a1a1a" stroke-width="0.3">Loewe score</text></g>
<text x="238.60" y="605.00" font-size="7.5" text-anchor="middle" fill="#1a1a1a"  stroke="#1a1a1a" stroke-width="0.2">WT</text>
<text x="262.90" y="605.00" font-size="7.5" text-anchor="middle" fill="#1a1a1a"  stroke="#1a1a1a" stroke-width="0.2">Mut or</text>
<text x="262.50" y="614.00" font-size="7.5" text-anchor="middle" fill="#1a1a1a"  stroke="#1a1a1a" stroke-width="0.2">Del</text>
<text x="253.3" y="525.90" font-size="8.0" fill="#1a1a1a" stroke="#1a1a1a" stroke-width="0.2"><tspan font-style="italic">P</tspan> = .529</text>
<line x1="231.00" y1="553.50" x2="246.60" y2="553.50" stroke="#3a2226" stroke-width="1.0" />
<rect x="238.15" y="519.05" width="1.9" height="1.9" fill="#6a1020"/>
<rect x="238.15" y="532.85" width="1.9" height="1.9" fill="#6a1020"/>
<rect x="235.65" y="551.85" width="1.9" height="1.9" fill="#6a1020"/>
<rect x="240.55" y="554.15" width="1.9" height="1.9" fill="#6a1020"/>
<rect x="238.15" y="576.35" width="1.9" height="1.9" fill="#6a1020"/>
<line x1="254.30" y1="555.50" x2="270.10" y2="555.50" stroke="#22222a" stroke-width="1.0" />
<circle cx="260.20" cy="548.40" r="1.25" fill="none" stroke="#4a5270" stroke-width="0.75"/>
<circle cx="265.00" cy="547.70" r="1.25" fill="none" stroke="#4a5270" stroke-width="0.75"/>
<circle cx="262.50" cy="561.80" r="1.25" fill="none" stroke="#4a5270" stroke-width="0.75"/>
<circle cx="262.50" cy="563.60" r="1.25" fill="none" stroke="#4a5270" stroke-width="0.75"/>
<circle cx="262.50" cy="565.40" r="1.25" fill="none" stroke="#4a5270" stroke-width="0.75"/>
<text x="288.00" y="460.10" font-size="10.4" text-anchor="start" fill="#000" font-weight="bold" stroke="#000" stroke-width="0.35">G</text>
<g transform="translate(318.30,498.10) rotate(-90)"><text x="0" y="0" font-size="7.7" text-anchor="start" fill="#1a1a1a" stroke="#1a1a1a" stroke-width="0.2">Jeko</text></g>
<g transform="translate(337.10,498.10) rotate(-90)"><text x="0" y="0" font-size="7.7" text-anchor="start" fill="#1a1a1a" stroke="#1a1a1a" stroke-width="0.2">PT1</text></g>
<g transform="translate(357.30,498.10) rotate(-90)"><text x="0" y="0" font-size="7.7" text-anchor="start" fill="#1a1a1a" stroke="#1a1a1a" stroke-width="0.2">PT2</text></g>
<g transform="translate(376.70,498.10) rotate(-90)"><text x="0" y="0" font-size="7.7" text-anchor="start" fill="#1a1a1a" stroke="#1a1a1a" stroke-width="0.2">PT3</text></g>
<g transform="translate(396.40,498.10) rotate(-90)"><text x="0" y="0" font-size="7.7" text-anchor="start" fill="#1a1a1a" stroke="#1a1a1a" stroke-width="0.2">PT4</text></g>
<g transform="translate(416.30,498.10) rotate(-90)"><text x="0" y="0" font-size="7.7" text-anchor="start" fill="#1a1a1a" stroke="#1a1a1a" stroke-width="0.2">PT5</text></g>
<g transform="translate(436.90,498.10) rotate(-90)"><text x="0" y="0" font-size="7.7" text-anchor="start" fill="#1a1a1a" stroke="#1a1a1a" stroke-width="0.2">PDX.AA.MCL</text></g>
<g transform="translate(456.20,498.10) rotate(-90)"><text x="0" y="0" font-size="7.7" text-anchor="start" fill="#1a1a1a" stroke="#1a1a1a" stroke-width="0.2">PDX.IR.96069</text></g>
<rect x="302.60" y="501.20" width="163.40" height="15.00" fill="#d9d9d9"/>
<rect x="307.50" y="505.30" width="14.00" height="5.30" rx="2.65" fill="rgb(10,10,10)" filter="url(#bl)"/>
<rect x="326.85" y="505.30" width="15.50" height="5.30" rx="2.65" fill="rgb(10,10,10)" filter="url(#bl)"/>
<rect x="347.05" y="504.90" width="15.50" height="4.40" rx="2.20" fill="rgb(20,20,20)" filter="url(#bl)"/>
<rect x="368.15" y="505.60" width="13.50" height="3.00" rx="1.50" fill="rgb(39,39,39)" filter="url(#bl)"/>
<rect x="387.85" y="508.20" width="13.50" height="1.80" rx="0.90" fill="rgb(68,68,68)" filter="url(#bl)"/>
<rect x="407.15" y="508.00" width="14.50" height="4.30" rx="2.15" fill="rgb(10,10,10)" filter="url(#bl)"/>
<rect x="426.90" y="508.00" width="15.00" height="3.60" rx="1.80" fill="rgb(20,20,20)" filter="url(#bl)"/>
<rect x="447.25" y="508.50" width="13.50" height="2.10" rx="1.05" fill="rgb(59,59,59)" filter="url(#bl)"/>
<rect x="308.00" y="508.50" width="13.00" height="7.00" rx="1.00" fill="rgb(108,108,108)" filter="url(#bl2)"/>
<rect x="327.60" y="508.50" width="14.00" height="7.00" rx="1.00" fill="rgb(127,127,127)" filter="url(#bl2)"/>
<rect x="408.40" y="510.50" width="12.00" height="4.50" rx="1.00" fill="rgb(146,146,146)" filter="url(#bl2)"/>
<rect x="302.60" y="501.20" width="163.40" height="15.00" fill="none" stroke="#1e1e1e" stroke-width="1.3"/>
<text x="471.40" y="511.64" font-size="7.6" text-anchor="start" fill="#1a1a1a"  stroke="#1a1a1a" stroke-width="0.2">FOXO1</text>
<text x="314.50" y="524.07" font-size="7.7" text-anchor="middle" fill="#1a1a1a"  stroke="#1a1a1a" stroke-width="0.2">1</text>
<text x="334.60" y="524.07" font-size="7.7" text-anchor="middle" fill="#1a1a1a"  stroke="#1a1a1a" stroke-width="0.2">3.4</text>
<text x="354.80" y="524.07" font-size="7.7" text-anchor="middle" fill="#1a1a1a"  stroke="#1a1a1a" stroke-width="0.2">4.7</text>
<text x="374.90" y="524.07" font-size="7.7" text-anchor="middle" fill="#1a1a1a"  stroke="#1a1a1a" stroke-width="0.2">2.8</text>
<text x="394.60" y="524.07" font-size="7.7" text-anchor="middle" fill="#1a1a1a"  stroke="#1a1a1a" stroke-width="0.2">0.9</text>
<text x="414.40" y="524.07" font-size="7.7" text-anchor="middle" fill="#1a1a1a"  stroke="#1a1a1a" stroke-width="0.2">1.9</text>
<text x="434.40" y="524.07" font-size="7.7" text-anchor="middle" fill="#1a1a1a"  stroke="#1a1a1a" stroke-width="0.2">0.6</text>
<text x="454.00" y="524.07" font-size="7.7" text-anchor="middle" fill="#1a1a1a"  stroke="#1a1a1a" stroke-width="0.2">0.5</text>
<rect x="302.60" y="528.00" width="163.40" height="17.00" fill="#d5d5d5"/>
<rect x="308.25" y="533.50" width="12.50" height="3.90" rx="1.95" fill="rgb(20,20,20)" filter="url(#bl)"/>
<rect x="325.60" y="531.70" width="18.00" height="8.70" rx="4.35" fill="rgb(10,10,10)" filter="url(#bl)"/>
<rect x="344.80" y="531.20" width="20.00" height="9.80" rx="4.90" fill="rgb(10,10,10)" filter="url(#bl)"/>
<rect x="366.65" y="531.50" width="16.50" height="8.50" rx="4.25" fill="rgb(10,10,10)" filter="url(#bl)"/>
<rect x="386.10" y="532.60" width="17.00" height="6.90" rx="3.45" fill="rgb(10,10,10)" filter="url(#bl)"/>
<rect x="406.65" y="533.00" width="15.50" height="6.00" rx="3.00" fill="rgb(10,10,10)" filter="url(#bl)"/>
<rect x="427.40" y="533.00" width="14.00" height="6.50" rx="3.25" fill="rgb(10,10,10)" filter="url(#bl)"/>
<rect x="447.00" y="534.50" width="14.00" height="3.10" rx="1.55" fill="rgb(39,39,39)" filter="url(#bl)"/>
<rect x="302.60" y="528.00" width="163.40" height="17.00" fill="none" stroke="#1e1e1e" stroke-width="1.3"/>
<text x="471.40" y="539.44" font-size="7.6" text-anchor="start" fill="#1a1a1a"  stroke="#1a1a1a" stroke-width="0.2">BAX</text>
<text x="314.50" y="552.27" font-size="7.7" text-anchor="middle" fill="#1a1a1a"  stroke="#1a1a1a" stroke-width="0.2">1</text>
<text x="334.60" y="552.27" font-size="7.7" text-anchor="middle" fill="#1a1a1a"  stroke="#1a1a1a" stroke-width="0.2">10.6</text>
<text x="354.80" y="552.27" font-size="7.7" text-anchor="middle" fill="#1a1a1a"  stroke="#1a1a1a" stroke-width="0.2">44.1</text>
<text x="374.90" y="552.27" font-size="7.7" text-anchor="middle" fill="#1a1a1a"  stroke="#1a1a1a" stroke-width="0.2">30.1</text>
<text x="394.60" y="552.27" font-size="7.7" text-anchor="middle" fill="#1a1a1a"  stroke="#1a1a1a" stroke-width="0.2">13.9</text>
<text x="414.40" y="552.27" font-size="7.7" text-anchor="middle" fill="#1a1a1a"  stroke="#1a1a1a" stroke-width="0.2">4.3</text>
<text x="434.40" y="552.27" font-size="7.7" text-anchor="middle" fill="#1a1a1a"  stroke="#1a1a1a" stroke-width="0.2">1.6</text>
<text x="454.00" y="552.27" font-size="7.7" text-anchor="middle" fill="#1a1a1a"  stroke="#1a1a1a" stroke-width="0.2">1.7</text>
<rect x="302.60" y="557.20" width="163.40" height="13.00" fill="#d0d0d0"/>
<rect x="308.50" y="559.50" width="12.00" height="4.50" rx="2.25" fill="rgb(117,117,117)" filter="url(#bl2)"/>
<rect x="307.50" y="562.70" width="14.00" height="4.00" rx="2.00" fill="rgb(10,10,10)" filter="url(#bl)"/>
<rect x="326.85" y="563.60" width="15.50" height="2.40" rx="1.20" fill="rgb(30,30,30)" filter="url(#bl)"/>
<rect x="347.80" y="563.80" width="14.00" height="2.20" rx="1.10" fill="rgb(88,88,88)" filter="url(#bl)"/>
<rect x="367.15" y="562.00" width="15.50" height="2.60" rx="1.30" fill="rgb(30,30,30)" filter="url(#bl)"/>
<rect x="386.85" y="561.60" width="15.50" height="2.60" rx="1.30" fill="rgb(30,30,30)" filter="url(#bl)"/>
<rect x="406.65" y="561.60" width="15.50" height="2.60" rx="1.30" fill="rgb(30,30,30)" filter="url(#bl)"/>
<rect x="427.15" y="561.60" width="14.50" height="2.60" rx="1.30" fill="rgb(33,33,33)" filter="url(#bl)"/>
<rect x="447.00" y="561.80" width="14.00" height="2.40" rx="1.20" fill="rgb(33,33,33)" filter="url(#bl)"/>
<rect x="302.60" y="557.20" width="163.40" height="13.00" fill="none" stroke="#1e1e1e" stroke-width="1.3"/>
<text x="471.40" y="566.64" font-size="7.6" text-anchor="start" fill="#1a1a1a"  stroke="#1a1a1a" stroke-width="0.2">PRMT5</text>
<text x="314.50" y="578.57" font-size="7.7" text-anchor="middle" fill="#1a1a1a"  stroke="#1a1a1a" stroke-width="0.2">1</text>
<text x="334.60" y="578.57" font-size="7.7" text-anchor="middle" fill="#1a1a1a"  stroke="#1a1a1a" stroke-width="0.2">1.8</text>
<text x="354.80" y="578.57" font-size="7.7" text-anchor="middle" fill="#1a1a1a"  stroke="#1a1a1a" stroke-width="0.2">1.9</text>
<text x="374.90" y="578.57" font-size="7.7" text-anchor="middle" fill="#1a1a1a"  stroke="#1a1a1a" stroke-width="0.2">8.8</text>
<text x="394.60" y="578.57" font-size="7.7" text-anchor="middle" fill="#1a1a1a"  stroke="#1a1a1a" stroke-width="0.2">3.3</text>
<text x="414.40" y="578.57" font-size="7.7" text-anchor="middle" fill="#1a1a1a"  stroke="#1a1a1a" stroke-width="0.2">1.0</text>
<text x="434.40" y="578.57" font-size="7.7" text-anchor="middle" fill="#1a1a1a"  stroke="#1a1a1a" stroke-width="0.2">0.5</text>
<text x="454.00" y="578.57" font-size="7.7" text-anchor="middle" fill="#1a1a1a"  stroke="#1a1a1a" stroke-width="0.2">0.8</text>
<rect x="302.60" y="583.00" width="163.40" height="13.60" fill="#dcdcdc"/>
<path d="M308.50,585.60 Q314.50,587.60 320.50,585.60 L320.50,587.49 Q314.50,589.65 308.50,587.49Z" fill="rgb(39,39,39)" filter="url(#bl)"/>
<path d="M326.85,586.30 Q334.60,588.70 342.35,586.30 L342.35,588.82 Q334.60,591.70 326.85,588.82Z" fill="rgb(20,20,20)" filter="url(#bl)"/>
<path d="M345.30,585.60 Q354.80,588.40 364.30,585.60 L364.30,589.73 Q354.80,594.45 345.30,589.73Z" fill="rgb(10,10,10)" filter="url(#bl)"/>
<path d="M366.65,586.60 Q374.90,589.00 383.15,586.60 L383.15,589.82 Q374.90,593.50 366.65,589.82Z" fill="rgb(10,10,10)" filter="url(#bl)"/>
<path d="M385.60,586.40 Q394.60,589.00 403.60,586.40 L403.60,590.81 Q394.60,595.85 385.60,590.81Z" fill="rgb(10,10,10)" filter="url(#bl)"/>
<path d="M406.15,586.80 Q414.40,589.20 422.65,586.80 L422.65,590.44 Q414.40,594.60 406.15,590.44Z" fill="rgb(10,10,10)" filter="url(#bl)"/>
<path d="M425.90,586.40 Q434.40,589.20 442.90,586.40 L442.90,591.65 Q434.40,597.65 425.90,591.65Z" fill="rgb(10,10,10)" filter="url(#bl)"/>
<path d="M445.35,585.00 Q454.00,588.20 462.65,585.00 L462.65,590.74 Q454.00,597.30 445.35,590.74Z" fill="rgb(10,10,10)" filter="url(#bl)"/>
<rect x="302.60" y="583.00" width="163.40" height="13.60" fill="none" stroke="#1e1e1e" stroke-width="1.3"/>
<text x="471.40" y="592.74" font-size="7.6" text-anchor="start" fill="#1a1a1a"  stroke="#1a1a1a" stroke-width="0.2">BCL2</text>
<text x="314.50" y="605.77" font-size="7.7" text-anchor="middle" fill="#1a1a1a"  stroke="#1a1a1a" stroke-width="0.2">1</text>
<text x="334.60" y="605.77" font-size="7.7" text-anchor="middle" fill="#1a1a1a"  stroke="#1a1a1a" stroke-width="0.2">6.0</text>
<text x="354.80" y="605.77" font-size="7.7" text-anchor="middle" fill="#1a1a1a"  stroke="#1a1a1a" stroke-width="0.2">84.4</text>
<text x="374.90" y="605.77" font-size="7.7" text-anchor="middle" fill="#1a1a1a"  stroke="#1a1a1a" stroke-width="0.2">35.1</text>
<text x="394.60" y="605.77" font-size="7.7" text-anchor="middle" fill="#1a1a1a"  stroke="#1a1a1a" stroke-width="0.2">37.7</text>
<text x="414.40" y="605.77" font-size="7.7" text-anchor="middle" fill="#1a1a1a"  stroke="#1a1a1a" stroke-width="0.2">27.6</text>
<text x="434.40" y="605.77" font-size="7.7" text-anchor="middle" fill="#1a1a1a"  stroke="#1a1a1a" stroke-width="0.2">40.8</text>
<text x="454.00" y="605.77" font-size="7.7" text-anchor="middle" fill="#1a1a1a"  stroke="#1a1a1a" stroke-width="0.2">48.7</text>
<rect x="302.60" y="610.80" width="163.40" height="11.40" fill="#b8b8b8"/>
<rect x="306.50" y="616.30" width="16.00" height="3.00" rx="1.50" fill="rgb(26,26,26)" filter="url(#bl)"/>
<rect x="327.35" y="616.00" width="14.50" height="2.40" rx="1.20" fill="rgb(39,39,39)" filter="url(#bl)"/>
<rect x="347.80" y="616.00" width="14.00" height="2.00" rx="1.00" fill="rgb(98,98,98)" filter="url(#bl)"/>
<rect x="367.90" y="615.80" width="14.00" height="2.00" rx="1.00" fill="rgb(98,98,98)" filter="url(#bl)"/>
<rect x="387.35" y="615.10" width="14.50" height="2.50" rx="1.25" fill="rgb(39,39,39)" filter="url(#bl)"/>
<rect x="406.40" y="615.00" width="16.00" height="3.00" rx="1.50" fill="rgb(39,39,39)" filter="url(#bl)"/>
<rect x="426.90" y="615.50" width="15.00" height="3.50" rx="1.75" fill="rgb(30,30,30)" filter="url(#bl)"/>
<rect x="447.00" y="615.50" width="14.00" height="2.50" rx="1.25" fill="rgb(39,39,39)" filter="url(#bl)"/>
<rect x="302.60" y="610.80" width="163.40" height="11.40" fill="none" stroke="#1e1e1e" stroke-width="1.3"/>
<text x="471.40" y="619.44" font-size="7.6" text-anchor="start" fill="#1a1a1a"  stroke="#1a1a1a" stroke-width="0.2">beta Tubulin</text>
<text x="314.50" y="630.27" font-size="7.7" text-anchor="middle" fill="#1a1a1a"  stroke="#1a1a1a" stroke-width="0.2">1</text>
<text x="334.60" y="630.27" font-size="7.7" text-anchor="middle" fill="#1a1a1a"  stroke="#1a1a1a" stroke-width="0.2">0.4</text>
<text x="354.80" y="630.27" font-size="7.7" text-anchor="middle" fill="#1a1a1a"  stroke="#1a1a1a" stroke-width="0.2">0.1</text>
<text x="374.90" y="630.27" font-size="7.7" text-anchor="middle" fill="#1a1a1a"  stroke="#1a1a1a" stroke-width="0.2">0.1</text>
<text x="394.60" y="630.27" font-size="7.7" text-anchor="middle" fill="#1a1a1a"  stroke="#1a1a1a" stroke-width="0.2">0.3</text>
<text x="414.40" y="630.27" font-size="7.7" text-anchor="middle" fill="#1a1a1a"  stroke="#1a1a1a" stroke-width="0.2">0.6</text>
<text x="434.40" y="630.27" font-size="7.7" text-anchor="middle" fill="#1a1a1a"  stroke="#1a1a1a" stroke-width="0.2">1.0</text>
<text x="454.00" y="630.27" font-size="7.7" text-anchor="middle" fill="#1a1a1a"  stroke="#1a1a1a" stroke-width="0.2">0.5</text>
<line x1="0" y1="0.5" x2="520" y2="0.5" stroke="#3c3c3c" stroke-width="1.1"/>
<line x1="0.5" y1="0" x2="0.5" y2="650" stroke="#3c3c3c" stroke-width="1.1"/>
<line x1="519.4" y1="0" x2="519.4" y2="650" stroke="#3c3c3c" stroke-width="1.2"/>
<line x1="0" y1="649.3" x2="520" y2="649.3" stroke="#333" stroke-width="1.4"/>
</svg></div></body></html>
